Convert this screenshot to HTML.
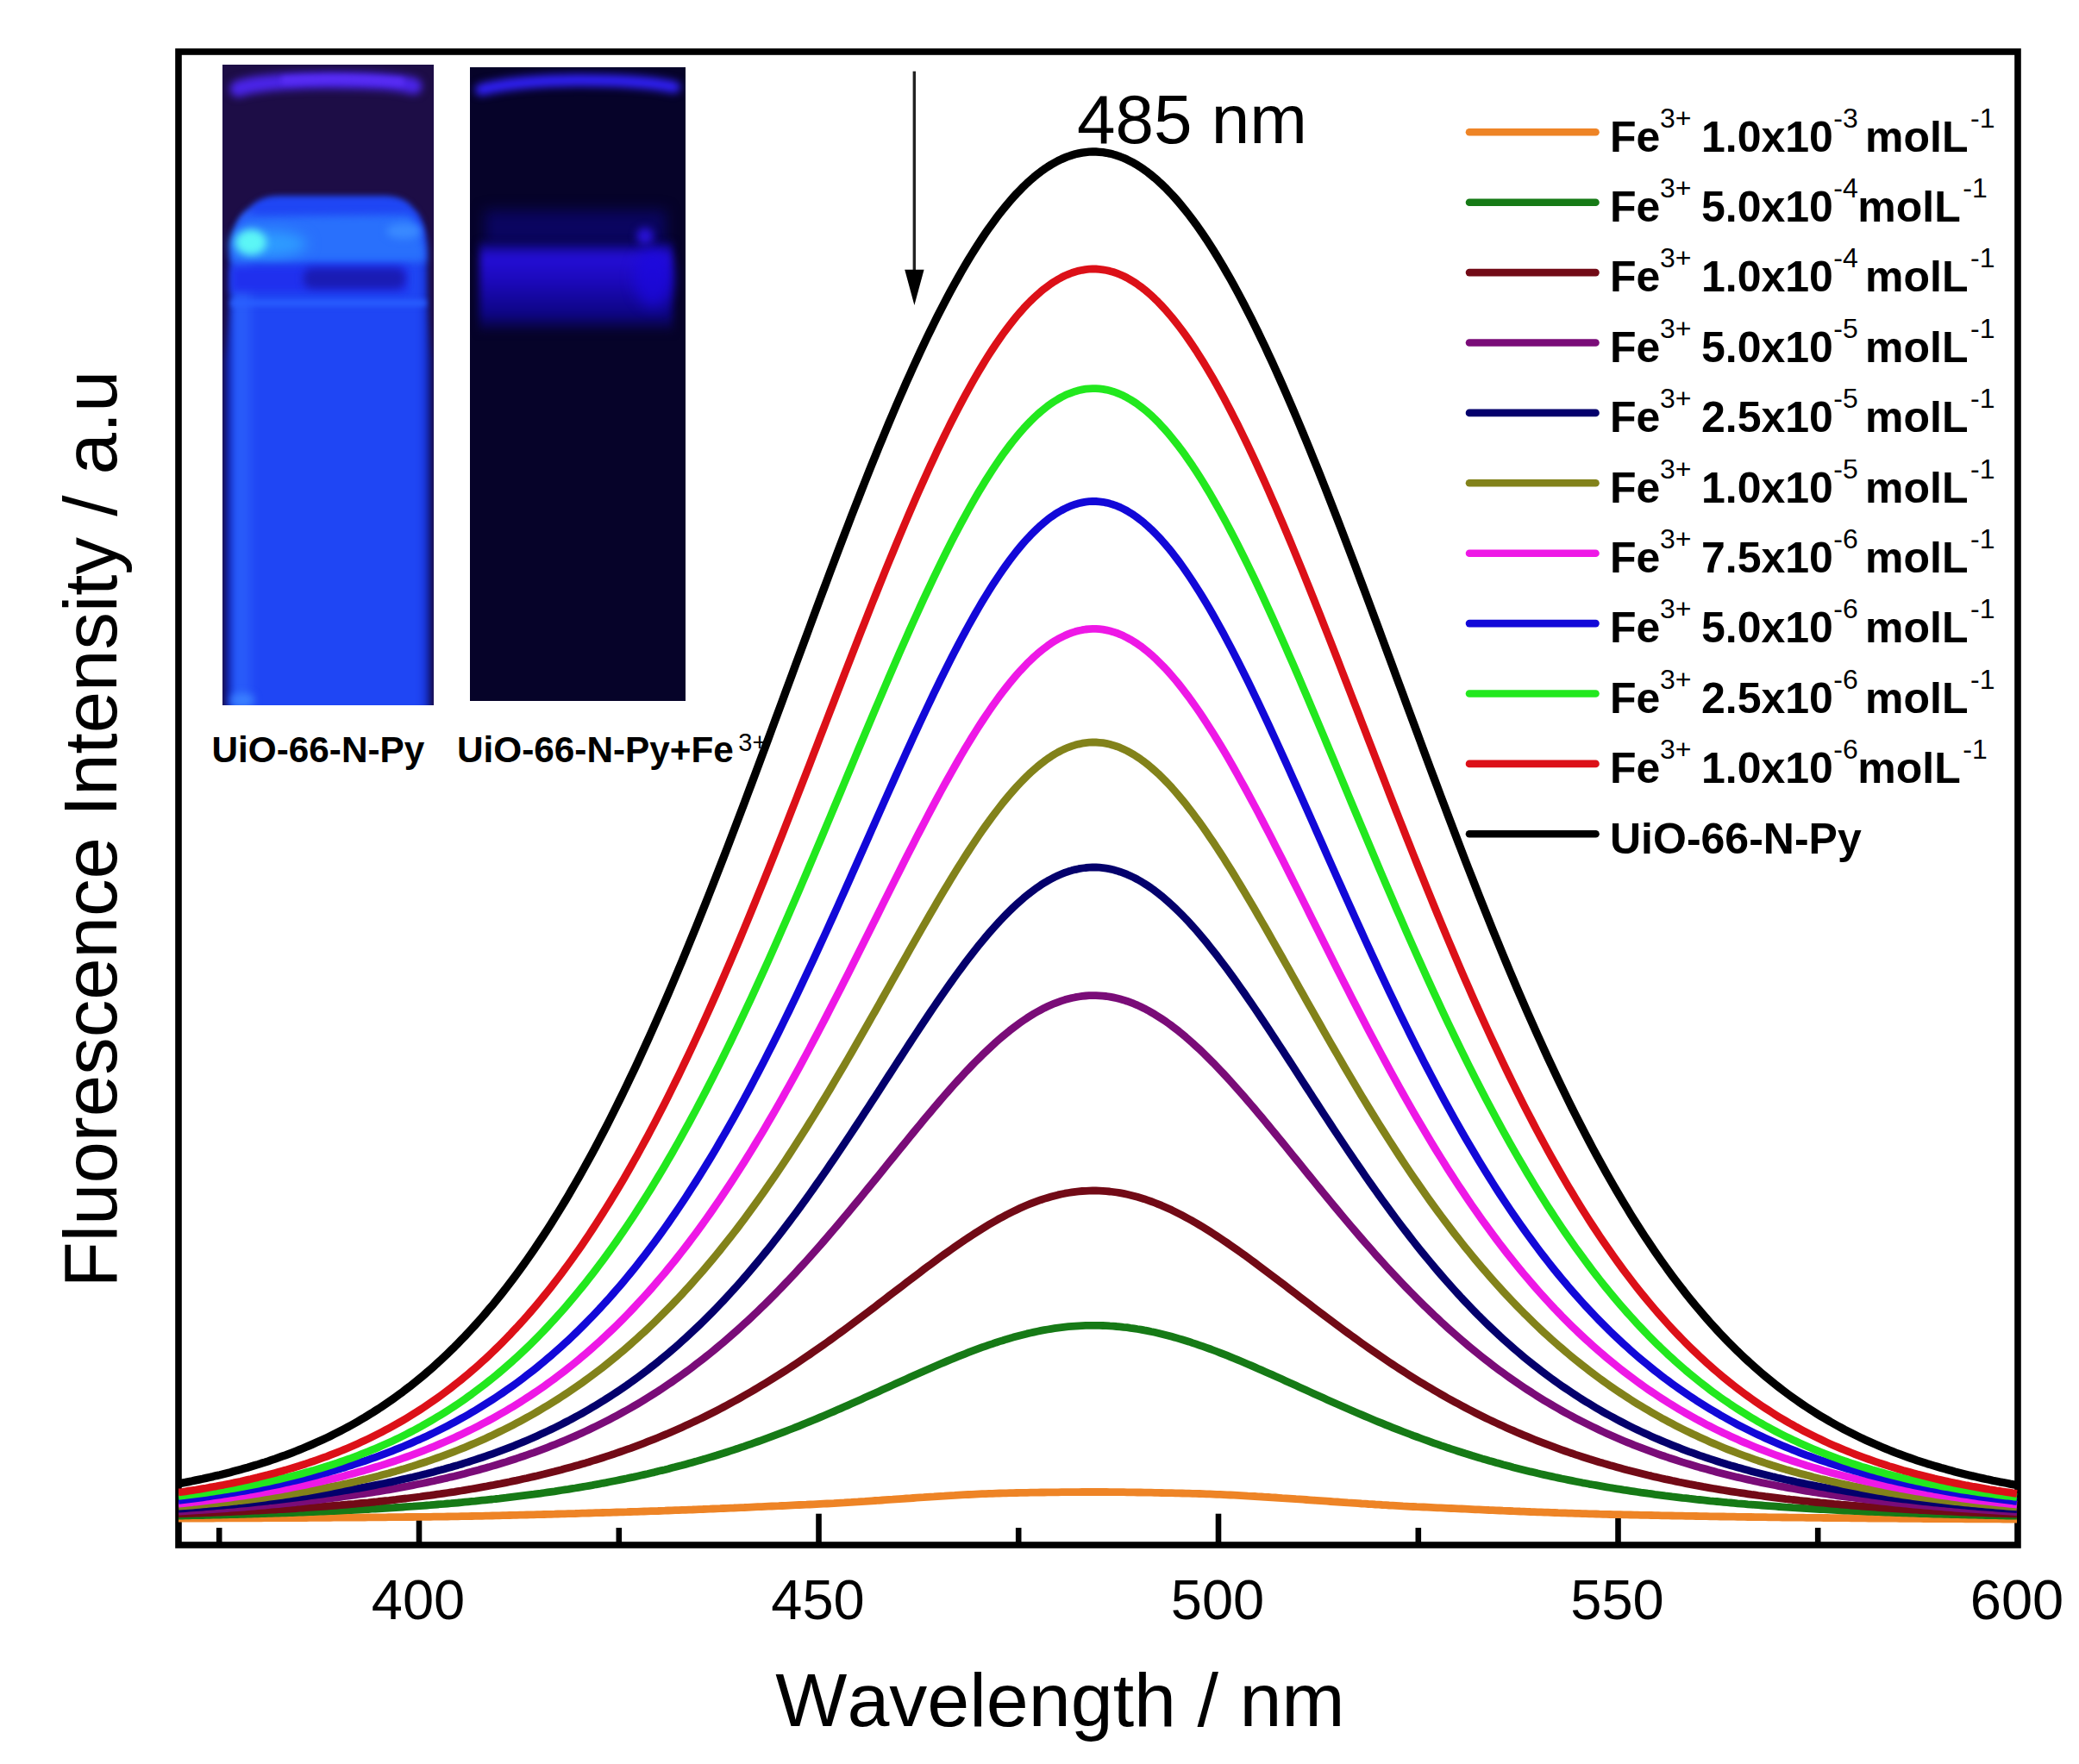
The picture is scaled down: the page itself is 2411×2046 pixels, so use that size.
<!DOCTYPE html>
<html><head><meta charset="utf-8"><title>Fluorescence spectra</title>
<style>
html,body{margin:0;padding:0;background:#fff}
svg{display:block}
text{font-family:"Liberation Sans",Arial,sans-serif;fill:#000;font-kerning:none}
.b{font-weight:bold}
</style></head><body>
<svg width="2411" height="2046" viewBox="0 0 2411 2046">
<rect width="2411" height="2046" fill="#fff"/>

<defs>
<filter color-interpolation-filters="sRGB" id="b3" filterUnits="userSpaceOnUse" x="200" y="40" width="650" height="830"><feGaussianBlur stdDeviation="3"/></filter>
<filter color-interpolation-filters="sRGB" id="b5" filterUnits="userSpaceOnUse" x="200" y="40" width="650" height="830"><feGaussianBlur stdDeviation="5"/></filter>
<filter color-interpolation-filters="sRGB" id="b8" filterUnits="userSpaceOnUse" x="200" y="40" width="650" height="830"><feGaussianBlur stdDeviation="8"/></filter>
<filter color-interpolation-filters="sRGB" id="b12" filterUnits="userSpaceOnUse" x="200" y="40" width="650" height="830"><feGaussianBlur stdDeviation="12"/></filter>
<linearGradient id="g2" x1="0" y1="0" x2="0" y2="1">
<stop offset="0" stop-color="#0a0568"/><stop offset="0.16" stop-color="#240ed6"/><stop offset="0.42" stop-color="#1c09bc"/><stop offset="0.8" stop-color="#0d0584"/><stop offset="1" stop-color="#070330"/>
</linearGradient>
<linearGradient id="g1" x1="0" y1="0" x2="1" y2="0">
<stop offset="0" stop-color="#101880"/><stop offset="0.03" stop-color="#1630c8"/><stop offset="0.05" stop-color="#2458f8"/><stop offset="0.09" stop-color="#2a5cfa"/><stop offset="0.16" stop-color="#1f46f4"/><stop offset="0.93" stop-color="#1f46f4"/><stop offset="0.965" stop-color="#1a38e0"/><stop offset="0.99" stop-color="#0e1a88"/><stop offset="1" stop-color="#0c1470"/>
</linearGradient>
<clipPath id="p1"><rect x="258" y="75" width="245" height="743"/></clipPath>
<clipPath id="p2"><rect x="545" y="78" width="250" height="735"/></clipPath>
</defs>
<g clip-path="url(#p1)">
<rect x="258" y="75" width="245" height="743" fill="#1d0d46"/>
<path d="M276 103 Q300 94 380 93 Q460 93 480 100" fill="none" stroke="#4a24e8" stroke-width="19" stroke-linecap="round" filter="url(#b5)"/>
<path d="M330 93 Q400 89 465 95" fill="none" stroke="#5a2ef6" stroke-width="8" stroke-linecap="round" filter="url(#b3)"/>
<path d="M260 830 L260 420 Q266 380 266 300 Q267 254 290 240 Q302 227 325 227 L447 227 Q470 228 479 241 Q496 254 496 300 Q496 380 501 420 L501 830 Z" fill="url(#g1)" filter="url(#b3)"/>
<path d="M269 304 L269 292 Q271 262 288 251 L474 249 Q489 262 493 292 L493 304 Z" fill="#2970fc" filter="url(#b5)"/>
<ellipse cx="468" cy="268" rx="20" ry="9" fill="#3a8aff" filter="url(#b5)"/>
<ellipse cx="312" cy="283" rx="44" ry="15" fill="#2e9cff" filter="url(#b8)"/>
<ellipse cx="291" cy="281" rx="18" ry="15" fill="#5cf6f6" filter="url(#b5)"/>
<rect x="268" y="309" width="205" height="30" fill="#2030ee" filter="url(#b5)"/>
<rect x="352" y="311" width="118" height="24" rx="10" fill="#1a1cb4" filter="url(#b5)"/>
<rect x="268" y="348" width="226" height="7" fill="#2a60ff" filter="url(#b3)"/>
<ellipse cx="281" cy="812" rx="14" ry="8" fill="#3a80ff" filter="url(#b5)"/>
</g>
<g clip-path="url(#p2)">
<rect x="545" y="78" width="250" height="735" fill="#060329"/>
<path d="M558 104 Q596 94 670 93 Q744 93 782 101" fill="none" stroke="#3020f6" stroke-width="14" stroke-linecap="round" filter="url(#b5)"/>
<rect x="562" y="244" width="210" height="40" fill="#0a0560" filter="url(#b8)"/>
<rect x="556" y="281" width="224" height="104" fill="url(#g2)" filter="url(#b5)"/>
<ellipse cx="757" cy="322" rx="22" ry="34" fill="#1c08e0" opacity="0.75" filter="url(#b8)"/>
<circle cx="748" cy="274" r="10" fill="#2812d4" filter="url(#b5)"/>
</g>

<rect x="207" y="60" width="2133" height="1732" fill="none" stroke="#000" stroke-width="7.6"/>
<line x1="486.0" y1="1792" x2="486.0" y2="1755.7" stroke="#000" stroke-width="6.6"/>
<line x1="949.5" y1="1792" x2="949.5" y2="1755.7" stroke="#000" stroke-width="6.6"/>
<line x1="1413.0" y1="1792" x2="1413.0" y2="1755.7" stroke="#000" stroke-width="6.6"/>
<line x1="1876.5" y1="1792" x2="1876.5" y2="1755.7" stroke="#000" stroke-width="6.6"/>
<line x1="254.2" y1="1792" x2="254.2" y2="1772" stroke="#000" stroke-width="6.6"/>
<line x1="717.8" y1="1792" x2="717.8" y2="1772" stroke="#000" stroke-width="6.6"/>
<line x1="1181.2" y1="1792" x2="1181.2" y2="1772" stroke="#000" stroke-width="6.6"/>
<line x1="1644.8" y1="1792" x2="1644.8" y2="1772" stroke="#000" stroke-width="6.6"/>
<line x1="2108.2" y1="1792" x2="2108.2" y2="1772" stroke="#000" stroke-width="6.6"/>
<clipPath id="pc"><rect x="207" y="60" width="2133" height="1732"/></clipPath>
<g clip-path="url(#pc)">
<path d="M207.0 1761.0 L211.0 1761.0 L215.0 1761.0 L219.0 1761.0 L223.0 1761.0 L227.0 1761.0 L231.0 1761.0 L235.0 1761.0 L239.0 1761.0 L243.0 1761.0 L247.0 1761.0 L251.0 1760.9 L255.0 1760.9 L259.0 1760.9 L263.0 1760.9 L267.0 1760.9 L271.0 1760.9 L275.0 1760.9 L279.0 1760.9 L283.0 1760.9 L287.0 1760.8 L291.0 1760.8 L295.0 1760.8 L299.0 1760.8 L303.0 1760.8 L307.0 1760.7 L311.0 1760.7 L315.0 1760.7 L319.0 1760.7 L323.0 1760.7 L327.0 1760.6 L331.0 1760.6 L335.0 1760.6 L339.0 1760.6 L343.0 1760.5 L347.0 1760.5 L351.0 1760.5 L355.0 1760.5 L359.0 1760.4 L363.0 1760.4 L367.0 1760.4 L371.0 1760.4 L375.0 1760.3 L379.0 1760.3 L383.0 1760.3 L387.0 1760.2 L391.0 1760.2 L395.0 1760.2 L399.0 1760.2 L403.0 1760.1 L407.0 1760.1 L411.0 1760.1 L415.0 1760.0 L419.0 1760.0 L423.0 1760.0 L427.0 1759.9 L431.0 1759.9 L435.0 1759.9 L439.0 1759.8 L443.0 1759.8 L447.0 1759.8 L451.0 1759.7 L455.0 1759.7 L459.0 1759.6 L463.0 1759.6 L467.0 1759.6 L471.0 1759.5 L475.0 1759.5 L479.0 1759.5 L483.0 1759.4 L487.0 1759.4 L491.0 1759.4 L495.0 1759.3 L499.0 1759.3 L503.0 1759.2 L507.0 1759.2 L511.0 1759.1 L515.0 1759.1 L519.0 1759.0 L523.0 1758.9 L527.0 1758.9 L531.0 1758.8 L535.0 1758.7 L539.0 1758.7 L543.0 1758.6 L547.0 1758.5 L551.0 1758.4 L555.0 1758.3 L559.0 1758.3 L563.0 1758.2 L567.0 1758.1 L571.0 1758.0 L575.0 1757.9 L579.0 1757.8 L583.0 1757.7 L587.0 1757.6 L591.0 1757.5 L595.0 1757.4 L599.0 1757.3 L603.0 1757.2 L607.0 1757.1 L611.0 1757.0 L615.0 1756.9 L619.0 1756.8 L623.0 1756.7 L627.0 1756.6 L631.0 1756.5 L635.0 1756.4 L639.0 1756.3 L643.0 1756.2 L647.0 1756.0 L651.0 1755.9 L655.0 1755.8 L659.0 1755.7 L663.0 1755.6 L667.0 1755.5 L671.0 1755.3 L675.0 1755.2 L679.0 1755.1 L683.0 1755.0 L687.0 1754.9 L691.0 1754.7 L695.0 1754.6 L699.0 1754.5 L703.0 1754.4 L707.0 1754.3 L711.0 1754.1 L715.0 1754.0 L719.0 1753.9 L723.0 1753.8 L727.0 1753.7 L731.0 1753.5 L735.0 1753.4 L739.0 1753.3 L743.0 1753.1 L747.0 1753.0 L751.0 1752.9 L755.0 1752.7 L759.0 1752.6 L763.0 1752.5 L767.0 1752.3 L771.0 1752.2 L775.0 1752.0 L779.0 1751.9 L783.0 1751.7 L787.0 1751.6 L791.0 1751.4 L795.0 1751.3 L799.0 1751.1 L803.0 1751.0 L807.0 1750.8 L811.0 1750.6 L815.0 1750.5 L819.0 1750.3 L823.0 1750.2 L827.0 1750.0 L831.0 1749.8 L835.0 1749.7 L839.0 1749.5 L843.0 1749.3 L847.0 1749.1 L851.0 1749.0 L855.0 1748.8 L859.0 1748.6 L863.0 1748.5 L867.0 1748.3 L871.0 1748.1 L875.0 1747.9 L879.0 1747.7 L883.0 1747.6 L887.0 1747.4 L891.0 1747.2 L895.0 1747.0 L899.0 1746.8 L903.0 1746.7 L907.0 1746.5 L911.0 1746.3 L915.0 1746.1 L919.0 1745.9 L923.0 1745.7 L927.0 1745.5 L931.0 1745.3 L935.0 1745.2 L939.0 1745.0 L943.0 1744.8 L947.0 1744.6 L951.0 1744.4 L955.0 1744.2 L959.0 1744.0 L963.0 1743.8 L967.0 1743.6 L971.0 1743.3 L975.0 1743.1 L979.0 1742.9 L983.0 1742.6 L987.0 1742.4 L991.0 1742.1 L995.0 1741.9 L999.0 1741.6 L1003.0 1741.4 L1007.0 1741.1 L1011.0 1740.8 L1015.0 1740.5 L1019.0 1740.3 L1023.0 1740.0 L1027.0 1739.7 L1031.0 1739.4 L1035.0 1739.2 L1039.0 1738.9 L1043.0 1738.6 L1047.0 1738.3 L1051.0 1738.0 L1055.0 1737.8 L1059.0 1737.5 L1063.0 1737.2 L1067.0 1736.9 L1071.0 1736.7 L1075.0 1736.4 L1079.0 1736.1 L1083.0 1735.9 L1087.0 1735.6 L1091.0 1735.3 L1095.0 1735.1 L1099.0 1734.8 L1103.0 1734.6 L1107.0 1734.4 L1111.0 1734.1 L1115.0 1733.9 L1119.0 1733.7 L1123.0 1733.5 L1127.0 1733.3 L1131.0 1733.1 L1135.0 1732.9 L1139.0 1732.7 L1143.0 1732.6 L1147.0 1732.4 L1151.0 1732.3 L1155.0 1732.1 L1159.0 1732.0 L1163.0 1731.9 L1167.0 1731.8 L1171.0 1731.7 L1175.0 1731.6 L1179.0 1731.5 L1183.0 1731.4 L1187.0 1731.4 L1191.0 1731.3 L1195.0 1731.2 L1199.0 1731.2 L1203.0 1731.1 L1207.0 1731.0 L1211.0 1731.0 L1215.0 1730.9 L1219.0 1730.9 L1223.0 1730.8 L1227.0 1730.8 L1231.0 1730.7 L1235.0 1730.7 L1239.0 1730.6 L1243.0 1730.6 L1247.0 1730.6 L1251.0 1730.6 L1255.0 1730.5 L1259.0 1730.5 L1263.0 1730.5 L1267.0 1730.5 L1271.0 1730.5 L1275.0 1730.5 L1279.0 1730.5 L1283.0 1730.5 L1287.0 1730.6 L1291.0 1730.6 L1295.0 1730.6 L1299.0 1730.7 L1303.0 1730.7 L1307.0 1730.8 L1311.0 1730.8 L1315.0 1730.9 L1319.0 1731.0 L1323.0 1731.0 L1327.0 1731.1 L1331.0 1731.2 L1335.0 1731.2 L1339.0 1731.3 L1343.0 1731.4 L1347.0 1731.5 L1351.0 1731.6 L1355.0 1731.6 L1359.0 1731.7 L1363.0 1731.8 L1367.0 1731.9 L1371.0 1732.0 L1375.0 1732.1 L1379.0 1732.2 L1383.0 1732.3 L1387.0 1732.4 L1391.0 1732.5 L1395.0 1732.6 L1399.0 1732.8 L1403.0 1732.9 L1407.0 1733.1 L1411.0 1733.3 L1415.0 1733.4 L1419.0 1733.6 L1423.0 1733.8 L1427.0 1734.0 L1431.0 1734.2 L1435.0 1734.4 L1439.0 1734.6 L1443.0 1734.8 L1447.0 1735.1 L1451.0 1735.3 L1455.0 1735.5 L1459.0 1735.8 L1463.0 1736.0 L1467.0 1736.3 L1471.0 1736.5 L1475.0 1736.8 L1479.0 1737.0 L1483.0 1737.3 L1487.0 1737.6 L1491.0 1737.8 L1495.0 1738.1 L1499.0 1738.4 L1503.0 1738.7 L1507.0 1738.9 L1511.0 1739.2 L1515.0 1739.5 L1519.0 1739.8 L1523.0 1740.1 L1527.0 1740.3 L1531.0 1740.6 L1535.0 1740.9 L1539.0 1741.2 L1543.0 1741.5 L1547.0 1741.8 L1551.0 1742.0 L1555.0 1742.3 L1559.0 1742.6 L1563.0 1742.9 L1567.0 1743.1 L1571.0 1743.4 L1575.0 1743.7 L1579.0 1744.0 L1583.0 1744.2 L1587.0 1744.5 L1591.0 1744.7 L1595.0 1745.0 L1599.0 1745.2 L1603.0 1745.5 L1607.0 1745.7 L1611.0 1746.0 L1615.0 1746.2 L1619.0 1746.4 L1623.0 1746.6 L1627.0 1746.9 L1631.0 1747.1 L1635.0 1747.3 L1639.0 1747.5 L1643.0 1747.7 L1647.0 1747.8 L1651.0 1748.0 L1655.0 1748.2 L1659.0 1748.4 L1663.0 1748.6 L1667.0 1748.8 L1671.0 1748.9 L1675.0 1749.1 L1679.0 1749.3 L1683.0 1749.5 L1687.0 1749.7 L1691.0 1749.9 L1695.0 1750.0 L1699.0 1750.2 L1703.0 1750.4 L1707.0 1750.6 L1711.0 1750.8 L1715.0 1750.9 L1719.0 1751.1 L1723.0 1751.3 L1727.0 1751.5 L1731.0 1751.6 L1735.0 1751.8 L1739.0 1752.0 L1743.0 1752.2 L1747.0 1752.3 L1751.0 1752.5 L1755.0 1752.7 L1759.0 1752.8 L1763.0 1753.0 L1767.0 1753.1 L1771.0 1753.3 L1775.0 1753.5 L1779.0 1753.6 L1783.0 1753.8 L1787.0 1753.9 L1791.0 1754.1 L1795.0 1754.2 L1799.0 1754.4 L1803.0 1754.5 L1807.0 1754.7 L1811.0 1754.8 L1815.0 1754.9 L1819.0 1755.1 L1823.0 1755.2 L1827.0 1755.3 L1831.0 1755.4 L1835.0 1755.6 L1839.0 1755.7 L1843.0 1755.8 L1847.0 1755.9 L1851.0 1756.0 L1855.0 1756.2 L1859.0 1756.3 L1863.0 1756.4 L1867.0 1756.5 L1871.0 1756.6 L1875.0 1756.7 L1879.0 1756.7 L1883.0 1756.8 L1887.0 1756.9 L1891.0 1757.0 L1895.0 1757.1 L1899.0 1757.2 L1903.0 1757.3 L1907.0 1757.4 L1911.0 1757.4 L1915.0 1757.5 L1919.0 1757.6 L1923.0 1757.7 L1927.0 1757.8 L1931.0 1757.8 L1935.0 1757.9 L1939.0 1758.0 L1943.0 1758.1 L1947.0 1758.1 L1951.0 1758.2 L1955.0 1758.3 L1959.0 1758.4 L1963.0 1758.4 L1967.0 1758.5 L1971.0 1758.6 L1975.0 1758.6 L1979.0 1758.7 L1983.0 1758.8 L1987.0 1758.8 L1991.0 1758.9 L1995.0 1759.0 L1999.0 1759.0 L2003.0 1759.1 L2007.0 1759.2 L2011.0 1759.2 L2015.0 1759.3 L2019.0 1759.3 L2023.0 1759.4 L2027.0 1759.5 L2031.0 1759.5 L2035.0 1759.6 L2039.0 1759.6 L2043.0 1759.7 L2047.0 1759.7 L2051.0 1759.8 L2055.0 1759.8 L2059.0 1759.9 L2063.0 1759.9 L2067.0 1760.0 L2071.0 1760.0 L2075.0 1760.1 L2079.0 1760.1 L2083.0 1760.2 L2087.0 1760.2 L2091.0 1760.2 L2095.0 1760.3 L2099.0 1760.3 L2103.0 1760.4 L2107.0 1760.4 L2111.0 1760.4 L2115.0 1760.5 L2119.0 1760.5 L2123.0 1760.6 L2127.0 1760.6 L2131.0 1760.6 L2135.0 1760.7 L2139.0 1760.7 L2143.0 1760.7 L2147.0 1760.8 L2151.0 1760.8 L2155.0 1760.8 L2159.0 1760.9 L2163.0 1760.9 L2167.0 1761.0 L2171.0 1761.0 L2175.0 1761.0 L2179.0 1761.1 L2183.0 1761.1 L2187.0 1761.1 L2191.0 1761.2 L2195.0 1761.2 L2199.0 1761.2 L2203.0 1761.3 L2207.0 1761.3 L2211.0 1761.3 L2215.0 1761.4 L2219.0 1761.4 L2223.0 1761.4 L2227.0 1761.4 L2231.0 1761.5 L2235.0 1761.5 L2239.0 1761.5 L2243.0 1761.6 L2247.0 1761.6 L2251.0 1761.6 L2255.0 1761.6 L2259.0 1761.7 L2263.0 1761.7 L2267.0 1761.7 L2271.0 1761.7 L2275.0 1761.7 L2279.0 1761.8 L2283.0 1761.8 L2287.0 1761.8 L2291.0 1761.8 L2295.0 1761.8 L2299.0 1761.9 L2303.0 1761.9 L2307.0 1761.9 L2311.0 1761.9 L2315.0 1761.9 L2319.0 1761.9 L2323.0 1762.0 L2327.0 1762.0 L2331.0 1762.0 L2335.0 1762.0 L2339.0 1762.0" fill="none" stroke="#ee8426" stroke-width="8.8" stroke-linejoin="round"/>
<path d="M207.0 1758.0 L211.0 1758.0 L215.0 1757.9 L219.0 1757.8 L223.0 1757.7 L227.0 1757.6 L231.0 1757.5 L235.0 1757.5 L239.0 1757.4 L243.0 1757.3 L247.0 1757.2 L251.0 1757.1 L255.0 1757.0 L259.0 1756.9 L263.0 1756.8 L267.0 1756.7 L271.0 1756.6 L275.0 1756.5 L279.0 1756.4 L283.0 1756.3 L287.0 1756.2 L291.0 1756.0 L295.0 1755.9 L299.0 1755.8 L303.0 1755.7 L307.0 1755.6 L311.0 1755.4 L315.0 1755.3 L319.0 1755.2 L323.0 1755.0 L327.0 1754.9 L331.0 1754.8 L335.0 1754.6 L339.0 1754.5 L343.0 1754.3 L347.0 1754.2 L351.0 1754.0 L355.0 1753.9 L359.0 1753.7 L363.0 1753.5 L367.0 1753.4 L371.0 1753.2 L375.0 1753.0 L379.0 1752.9 L383.0 1752.7 L387.0 1752.5 L391.0 1752.3 L395.0 1752.1 L399.0 1751.9 L403.0 1751.7 L407.0 1751.5 L411.0 1751.3 L415.0 1751.1 L419.0 1750.9 L423.0 1750.7 L427.0 1750.5 L431.0 1750.2 L435.0 1750.0 L439.0 1749.8 L443.0 1749.5 L447.0 1749.3 L451.0 1749.0 L455.0 1748.8 L459.0 1748.5 L463.0 1748.3 L467.0 1748.0 L471.0 1747.7 L475.0 1747.4 L479.0 1747.2 L483.0 1746.9 L487.0 1746.6 L491.0 1746.3 L495.0 1746.0 L499.0 1745.7 L503.0 1745.3 L507.0 1745.0 L511.0 1744.7 L515.0 1744.4 L519.0 1744.0 L523.0 1743.7 L527.0 1743.3 L531.0 1743.0 L535.0 1742.6 L539.0 1742.2 L543.0 1741.8 L547.0 1741.4 L551.0 1741.1 L555.0 1740.6 L559.0 1740.2 L563.0 1739.8 L567.0 1739.4 L571.0 1739.0 L575.0 1738.5 L579.0 1738.1 L583.0 1737.6 L587.0 1737.2 L591.0 1736.7 L595.0 1736.2 L599.0 1735.7 L603.0 1735.2 L607.0 1734.7 L611.0 1734.2 L615.0 1733.7 L619.0 1733.2 L623.0 1732.6 L627.0 1732.1 L631.0 1731.5 L635.0 1730.9 L639.0 1730.3 L643.0 1729.8 L647.0 1729.2 L651.0 1728.5 L655.0 1727.9 L659.0 1727.3 L663.0 1726.6 L667.0 1726.0 L671.0 1725.3 L675.0 1724.7 L679.0 1724.0 L683.0 1723.3 L687.0 1722.6 L691.0 1721.8 L695.0 1721.1 L699.0 1720.3 L703.0 1719.6 L707.0 1718.8 L711.0 1718.0 L715.0 1717.2 L719.0 1716.4 L723.0 1715.6 L727.0 1714.8 L731.0 1713.9 L735.0 1713.1 L739.0 1712.2 L743.0 1711.3 L747.0 1710.4 L751.0 1709.5 L755.0 1708.5 L759.0 1707.6 L763.0 1706.6 L767.0 1705.6 L771.0 1704.7 L775.0 1703.7 L779.0 1702.6 L783.0 1701.6 L787.0 1700.5 L791.0 1699.5 L795.0 1698.4 L799.0 1697.3 L803.0 1696.2 L807.0 1695.1 L811.0 1693.9 L815.0 1692.8 L819.0 1691.6 L823.0 1690.4 L827.0 1689.2 L831.0 1688.0 L835.0 1686.7 L839.0 1685.5 L843.0 1684.2 L847.0 1682.9 L851.0 1681.6 L855.0 1680.3 L859.0 1678.9 L863.0 1677.6 L867.0 1676.2 L871.0 1674.8 L875.0 1673.4 L879.0 1672.0 L883.0 1670.6 L887.0 1669.1 L891.0 1667.7 L895.0 1666.2 L899.0 1664.7 L903.0 1663.2 L907.0 1661.6 L911.0 1660.1 L915.0 1658.5 L919.0 1657.0 L923.0 1655.4 L927.0 1653.8 L931.0 1652.2 L935.0 1650.5 L939.0 1648.9 L943.0 1647.2 L947.0 1645.6 L951.0 1643.9 L955.0 1642.2 L959.0 1640.5 L963.0 1638.8 L967.0 1637.1 L971.0 1635.3 L975.0 1633.6 L979.0 1631.8 L983.0 1630.1 L987.0 1628.3 L991.0 1626.5 L995.0 1624.7 L999.0 1622.9 L1003.0 1621.1 L1007.0 1619.3 L1011.0 1617.5 L1015.0 1615.7 L1019.0 1613.9 L1023.0 1612.1 L1027.0 1610.3 L1031.0 1608.5 L1035.0 1606.6 L1039.0 1604.8 L1043.0 1603.0 L1047.0 1601.2 L1051.0 1599.4 L1055.0 1597.6 L1059.0 1595.8 L1063.0 1594.0 L1067.0 1592.2 L1071.0 1590.4 L1075.0 1588.7 L1079.0 1586.9 L1083.0 1585.2 L1087.0 1583.5 L1091.0 1581.8 L1095.0 1580.1 L1099.0 1578.4 L1103.0 1576.7 L1107.0 1575.1 L1111.0 1573.4 L1115.0 1571.8 L1119.0 1570.3 L1123.0 1568.7 L1127.0 1567.2 L1131.0 1565.7 L1135.0 1564.2 L1139.0 1562.7 L1143.0 1561.3 L1147.0 1559.9 L1151.0 1558.6 L1155.0 1557.2 L1159.0 1555.9 L1163.0 1554.7 L1167.0 1553.4 L1171.0 1552.3 L1175.0 1551.1 L1179.0 1550.0 L1183.0 1548.9 L1187.0 1547.9 L1191.0 1546.9 L1195.0 1546.0 L1199.0 1545.1 L1203.0 1544.2 L1207.0 1543.4 L1211.0 1542.7 L1215.0 1542.0 L1219.0 1541.3 L1223.0 1540.7 L1227.0 1540.1 L1231.0 1539.6 L1235.0 1539.1 L1239.0 1538.7 L1243.0 1538.4 L1247.0 1538.1 L1251.0 1537.8 L1255.0 1537.6 L1259.0 1537.4 L1263.0 1537.4 L1267.0 1537.3 L1271.0 1537.3 L1275.0 1537.4 L1279.0 1537.5 L1283.0 1537.6 L1287.0 1537.9 L1291.0 1538.1 L1295.0 1538.5 L1299.0 1538.8 L1303.0 1539.3 L1307.0 1539.7 L1311.0 1540.3 L1315.0 1540.8 L1319.0 1541.5 L1323.0 1542.1 L1327.0 1542.9 L1331.0 1543.6 L1335.0 1544.5 L1339.0 1545.3 L1343.0 1546.2 L1347.0 1547.2 L1351.0 1548.2 L1355.0 1549.2 L1359.0 1550.3 L1363.0 1551.4 L1367.0 1552.6 L1371.0 1553.8 L1375.0 1555.0 L1379.0 1556.2 L1383.0 1557.6 L1387.0 1558.9 L1391.0 1560.3 L1395.0 1561.7 L1399.0 1563.1 L1403.0 1564.5 L1407.0 1566.0 L1411.0 1567.5 L1415.0 1569.1 L1419.0 1570.7 L1423.0 1572.2 L1427.0 1573.8 L1431.0 1575.5 L1435.0 1577.1 L1439.0 1578.8 L1443.0 1580.5 L1447.0 1582.2 L1451.0 1583.9 L1455.0 1585.6 L1459.0 1587.4 L1463.0 1589.1 L1467.0 1590.9 L1471.0 1592.7 L1475.0 1594.4 L1479.0 1596.2 L1483.0 1598.0 L1487.0 1599.8 L1491.0 1601.7 L1495.0 1603.5 L1499.0 1605.3 L1503.0 1607.1 L1507.0 1608.9 L1511.0 1610.7 L1515.0 1612.5 L1519.0 1614.4 L1523.0 1616.2 L1527.0 1618.0 L1531.0 1619.8 L1535.0 1621.6 L1539.0 1623.4 L1543.0 1625.2 L1547.0 1627.0 L1551.0 1628.7 L1555.0 1630.5 L1559.0 1632.3 L1563.0 1634.0 L1567.0 1635.8 L1571.0 1637.5 L1575.0 1639.2 L1579.0 1640.9 L1583.0 1642.6 L1587.0 1644.3 L1591.0 1646.0 L1595.0 1647.7 L1599.0 1649.3 L1603.0 1650.9 L1607.0 1652.6 L1611.0 1654.2 L1615.0 1655.8 L1619.0 1657.4 L1623.0 1658.9 L1627.0 1660.5 L1631.0 1662.0 L1635.0 1663.5 L1639.0 1665.1 L1643.0 1666.5 L1647.0 1668.0 L1651.0 1669.5 L1655.0 1670.9 L1659.0 1672.4 L1663.0 1673.8 L1667.0 1675.2 L1671.0 1676.6 L1675.0 1677.9 L1679.0 1679.3 L1683.0 1680.6 L1687.0 1681.9 L1691.0 1683.2 L1695.0 1684.5 L1699.0 1685.8 L1703.0 1687.0 L1707.0 1688.3 L1711.0 1689.5 L1715.0 1690.7 L1719.0 1691.9 L1723.0 1693.0 L1727.0 1694.2 L1731.0 1695.3 L1735.0 1696.5 L1739.0 1697.6 L1743.0 1698.7 L1747.0 1699.7 L1751.0 1700.8 L1755.0 1701.9 L1759.0 1702.9 L1763.0 1703.9 L1767.0 1704.9 L1771.0 1705.9 L1775.0 1706.9 L1779.0 1707.8 L1783.0 1708.8 L1787.0 1709.7 L1791.0 1710.6 L1795.0 1711.5 L1799.0 1712.4 L1803.0 1713.3 L1807.0 1714.1 L1811.0 1715.0 L1815.0 1715.8 L1819.0 1716.6 L1823.0 1717.4 L1827.0 1718.2 L1831.0 1719.0 L1835.0 1719.8 L1839.0 1720.5 L1843.0 1721.3 L1847.0 1722.0 L1851.0 1722.7 L1855.0 1723.4 L1859.0 1724.1 L1863.0 1724.8 L1867.0 1725.5 L1871.0 1726.2 L1875.0 1726.8 L1879.0 1727.4 L1883.0 1728.1 L1887.0 1728.7 L1891.0 1729.3 L1895.0 1729.9 L1899.0 1730.5 L1903.0 1731.1 L1907.0 1731.6 L1911.0 1732.2 L1915.0 1732.7 L1919.0 1733.3 L1923.0 1733.8 L1927.0 1734.3 L1931.0 1734.9 L1935.0 1735.4 L1939.0 1735.9 L1943.0 1736.3 L1947.0 1736.8 L1951.0 1737.3 L1955.0 1737.7 L1959.0 1738.2 L1963.0 1738.6 L1967.0 1739.1 L1971.0 1739.5 L1975.0 1739.9 L1979.0 1740.3 L1983.0 1740.8 L1987.0 1741.2 L1991.0 1741.5 L1995.0 1741.9 L1999.0 1742.3 L2003.0 1742.7 L2007.0 1743.0 L2011.0 1743.4 L2015.0 1743.8 L2019.0 1744.1 L2023.0 1744.4 L2027.0 1744.8 L2031.0 1745.1 L2035.0 1745.4 L2039.0 1745.7 L2043.0 1746.0 L2047.0 1746.3 L2051.0 1746.6 L2055.0 1746.9 L2059.0 1747.2 L2063.0 1747.5 L2067.0 1747.8 L2071.0 1748.1 L2075.0 1748.3 L2079.0 1748.6 L2083.0 1748.8 L2087.0 1749.1 L2091.0 1749.3 L2095.0 1749.6 L2099.0 1749.8 L2103.0 1750.1 L2107.0 1750.3 L2111.0 1750.5 L2115.0 1750.7 L2119.0 1750.9 L2123.0 1751.2 L2127.0 1751.4 L2131.0 1751.6 L2135.0 1751.8 L2139.0 1752.0 L2143.0 1752.2 L2147.0 1752.4 L2151.0 1752.5 L2155.0 1752.7 L2159.0 1752.9 L2163.0 1753.1 L2167.0 1753.3 L2171.0 1753.4 L2175.0 1753.6 L2179.0 1753.7 L2183.0 1753.9 L2187.0 1754.1 L2191.0 1754.2 L2195.0 1754.4 L2199.0 1754.5 L2203.0 1754.7 L2207.0 1754.8 L2211.0 1754.9 L2215.0 1755.1 L2219.0 1755.2 L2223.0 1755.3 L2227.0 1755.5 L2231.0 1755.6 L2235.0 1755.7 L2239.0 1755.8 L2243.0 1756.0 L2247.0 1756.1 L2251.0 1756.2 L2255.0 1756.3 L2259.0 1756.4 L2263.0 1756.5 L2267.0 1756.6 L2271.0 1756.7 L2275.0 1756.8 L2279.0 1756.9 L2283.0 1757.0 L2287.0 1757.1 L2291.0 1757.2 L2295.0 1757.3 L2299.0 1757.4 L2303.0 1757.5 L2307.0 1757.6 L2311.0 1757.7 L2315.0 1757.7 L2319.0 1757.8 L2323.0 1757.9 L2327.0 1758.0 L2331.0 1758.1 L2335.0 1758.1 L2339.0 1758.2" fill="none" stroke="#167a16" stroke-width="8.8" stroke-linejoin="round"/>
<path d="M207.0 1755.8 L211.0 1755.7 L215.0 1755.5 L219.0 1755.4 L223.0 1755.3 L227.0 1755.1 L231.0 1755.0 L235.0 1754.8 L239.0 1754.7 L243.0 1754.5 L247.0 1754.4 L251.0 1754.2 L255.0 1754.1 L259.0 1753.9 L263.0 1753.7 L267.0 1753.6 L271.0 1753.4 L275.0 1753.2 L279.0 1753.0 L283.0 1752.8 L287.0 1752.6 L291.0 1752.4 L295.0 1752.2 L299.0 1752.0 L303.0 1751.8 L307.0 1751.6 L311.0 1751.4 L315.0 1751.2 L319.0 1751.0 L323.0 1750.7 L327.0 1750.5 L331.0 1750.3 L335.0 1750.0 L339.0 1749.8 L343.0 1749.5 L347.0 1749.2 L351.0 1749.0 L355.0 1748.7 L359.0 1748.4 L363.0 1748.1 L367.0 1747.9 L371.0 1747.6 L375.0 1747.3 L379.0 1747.0 L383.0 1746.6 L387.0 1746.3 L391.0 1746.0 L395.0 1745.7 L399.0 1745.3 L403.0 1745.0 L407.0 1744.6 L411.0 1744.3 L415.0 1743.9 L419.0 1743.5 L423.0 1743.1 L427.0 1742.8 L431.0 1742.4 L435.0 1742.0 L439.0 1741.5 L443.0 1741.1 L447.0 1740.7 L451.0 1740.3 L455.0 1739.8 L459.0 1739.4 L463.0 1738.9 L467.0 1738.4 L471.0 1738.0 L475.0 1737.5 L479.0 1737.0 L483.0 1736.5 L487.0 1736.0 L491.0 1735.4 L495.0 1734.9 L499.0 1734.4 L503.0 1733.8 L507.0 1733.2 L511.0 1732.7 L515.0 1732.1 L519.0 1731.5 L523.0 1730.9 L527.0 1730.3 L531.0 1729.6 L535.0 1729.0 L539.0 1728.3 L543.0 1727.7 L547.0 1727.0 L551.0 1726.3 L555.0 1725.6 L559.0 1724.9 L563.0 1724.2 L567.0 1723.4 L571.0 1722.7 L575.0 1721.9 L579.0 1721.2 L583.0 1720.4 L587.0 1719.6 L591.0 1718.8 L595.0 1717.9 L599.0 1717.1 L603.0 1716.2 L607.0 1715.3 L611.0 1714.5 L615.0 1713.5 L619.0 1712.6 L623.0 1711.7 L627.0 1710.7 L631.0 1709.8 L635.0 1708.8 L639.0 1707.8 L643.0 1706.8 L647.0 1705.7 L651.0 1704.7 L655.0 1703.6 L659.0 1702.5 L663.0 1701.4 L667.0 1700.3 L671.0 1699.2 L675.0 1698.0 L679.0 1696.9 L683.0 1695.7 L687.0 1694.4 L691.0 1693.2 L695.0 1692.0 L699.0 1690.7 L703.0 1689.4 L707.0 1688.1 L711.0 1686.8 L715.0 1685.4 L719.0 1684.0 L723.0 1682.6 L727.0 1681.2 L731.0 1679.8 L735.0 1678.3 L739.0 1676.8 L743.0 1675.3 L747.0 1673.8 L751.0 1672.2 L755.0 1670.7 L759.0 1669.1 L763.0 1667.5 L767.0 1665.8 L771.0 1664.1 L775.0 1662.5 L779.0 1660.7 L783.0 1659.0 L787.0 1657.2 L791.0 1655.4 L795.0 1653.6 L799.0 1651.8 L803.0 1649.9 L807.0 1648.0 L811.0 1646.1 L815.0 1644.2 L819.0 1642.2 L823.0 1640.2 L827.0 1638.2 L831.0 1636.2 L835.0 1634.1 L839.0 1632.0 L843.0 1629.9 L847.0 1627.7 L851.0 1625.5 L855.0 1623.3 L859.0 1621.1 L863.0 1618.8 L867.0 1616.5 L871.0 1614.2 L875.0 1611.9 L879.0 1609.5 L883.0 1607.1 L887.0 1604.7 L891.0 1602.3 L895.0 1599.8 L899.0 1597.3 L903.0 1594.8 L907.0 1592.2 L911.0 1589.7 L915.0 1587.1 L919.0 1584.5 L923.0 1581.8 L927.0 1579.1 L931.0 1576.4 L935.0 1573.7 L939.0 1571.0 L943.0 1568.2 L947.0 1565.4 L951.0 1562.6 L955.0 1559.8 L959.0 1557.0 L963.0 1554.1 L967.0 1551.2 L971.0 1548.3 L975.0 1545.4 L979.0 1542.4 L983.0 1539.5 L987.0 1536.5 L991.0 1533.5 L995.0 1530.5 L999.0 1527.5 L1003.0 1524.5 L1007.0 1521.5 L1011.0 1518.4 L1015.0 1515.4 L1019.0 1512.3 L1023.0 1509.3 L1027.0 1506.2 L1031.0 1503.1 L1035.0 1500.1 L1039.0 1497.0 L1043.0 1493.9 L1047.0 1490.9 L1051.0 1487.8 L1055.0 1484.8 L1059.0 1481.7 L1063.0 1478.7 L1067.0 1475.7 L1071.0 1472.6 L1075.0 1469.6 L1079.0 1466.7 L1083.0 1463.7 L1087.0 1460.7 L1091.0 1457.8 L1095.0 1454.9 L1099.0 1452.1 L1103.0 1449.2 L1107.0 1446.4 L1111.0 1443.6 L1115.0 1440.9 L1119.0 1438.1 L1123.0 1435.5 L1127.0 1432.8 L1131.0 1430.2 L1135.0 1427.7 L1139.0 1425.2 L1143.0 1422.7 L1147.0 1420.3 L1151.0 1418.0 L1155.0 1415.7 L1159.0 1413.4 L1163.0 1411.3 L1167.0 1409.1 L1171.0 1407.1 L1175.0 1405.1 L1179.0 1403.2 L1183.0 1401.3 L1187.0 1399.5 L1191.0 1397.8 L1195.0 1396.2 L1199.0 1394.6 L1203.0 1393.1 L1207.0 1391.7 L1211.0 1390.4 L1215.0 1389.2 L1219.0 1388.0 L1223.0 1386.9 L1227.0 1385.9 L1231.0 1385.0 L1235.0 1384.2 L1239.0 1383.5 L1243.0 1382.9 L1247.0 1382.3 L1251.0 1381.9 L1255.0 1381.5 L1259.0 1381.3 L1263.0 1381.1 L1267.0 1381.0 L1271.0 1381.0 L1275.0 1381.1 L1279.0 1381.3 L1283.0 1381.6 L1287.0 1382.0 L1291.0 1382.5 L1295.0 1383.0 L1299.0 1383.7 L1303.0 1384.4 L1307.0 1385.3 L1311.0 1386.2 L1315.0 1387.2 L1319.0 1388.3 L1323.0 1389.5 L1327.0 1390.7 L1331.0 1392.1 L1335.0 1393.5 L1339.0 1395.0 L1343.0 1396.6 L1347.0 1398.2 L1351.0 1400.0 L1355.0 1401.8 L1359.0 1403.6 L1363.0 1405.6 L1367.0 1407.6 L1371.0 1409.7 L1375.0 1411.8 L1379.0 1414.0 L1383.0 1416.2 L1387.0 1418.6 L1391.0 1420.9 L1395.0 1423.3 L1399.0 1425.8 L1403.0 1428.3 L1407.0 1430.9 L1411.0 1433.5 L1415.0 1436.1 L1419.0 1438.8 L1423.0 1441.5 L1427.0 1444.3 L1431.0 1447.1 L1435.0 1449.9 L1439.0 1452.8 L1443.0 1455.6 L1447.0 1458.6 L1451.0 1461.5 L1455.0 1464.4 L1459.0 1467.4 L1463.0 1470.4 L1467.0 1473.4 L1471.0 1476.4 L1475.0 1479.4 L1479.0 1482.5 L1483.0 1485.5 L1487.0 1488.6 L1491.0 1491.6 L1495.0 1494.7 L1499.0 1497.8 L1503.0 1500.8 L1507.0 1503.9 L1511.0 1507.0 L1515.0 1510.0 L1519.0 1513.1 L1523.0 1516.2 L1527.0 1519.2 L1531.0 1522.2 L1535.0 1525.3 L1539.0 1528.3 L1543.0 1531.3 L1547.0 1534.3 L1551.0 1537.3 L1555.0 1540.2 L1559.0 1543.2 L1563.0 1546.1 L1567.0 1549.0 L1571.0 1551.9 L1575.0 1554.8 L1579.0 1557.7 L1583.0 1560.5 L1587.0 1563.3 L1591.0 1566.1 L1595.0 1568.9 L1599.0 1571.7 L1603.0 1574.4 L1607.0 1577.1 L1611.0 1579.8 L1615.0 1582.5 L1619.0 1585.1 L1623.0 1587.7 L1627.0 1590.3 L1631.0 1592.9 L1635.0 1595.4 L1639.0 1597.9 L1643.0 1600.4 L1647.0 1602.9 L1651.0 1605.3 L1655.0 1607.7 L1659.0 1610.1 L1663.0 1612.5 L1667.0 1614.8 L1671.0 1617.1 L1675.0 1619.4 L1679.0 1621.7 L1683.0 1623.9 L1687.0 1626.1 L1691.0 1628.2 L1695.0 1630.4 L1699.0 1632.5 L1703.0 1634.6 L1707.0 1636.7 L1711.0 1638.7 L1715.0 1640.7 L1719.0 1642.7 L1723.0 1644.7 L1727.0 1646.6 L1731.0 1648.5 L1735.0 1650.4 L1739.0 1652.3 L1743.0 1654.1 L1747.0 1655.9 L1751.0 1657.7 L1755.0 1659.4 L1759.0 1661.2 L1763.0 1662.9 L1767.0 1664.6 L1771.0 1666.2 L1775.0 1667.9 L1779.0 1669.5 L1783.0 1671.1 L1787.0 1672.6 L1791.0 1674.2 L1795.0 1675.7 L1799.0 1677.2 L1803.0 1678.7 L1807.0 1680.1 L1811.0 1681.6 L1815.0 1683.0 L1819.0 1684.4 L1823.0 1685.7 L1827.0 1687.1 L1831.0 1688.4 L1835.0 1689.7 L1839.0 1691.0 L1843.0 1692.3 L1847.0 1693.5 L1851.0 1694.7 L1855.0 1696.0 L1859.0 1697.1 L1863.0 1698.3 L1867.0 1699.5 L1871.0 1700.6 L1875.0 1701.7 L1879.0 1702.8 L1883.0 1703.9 L1887.0 1705.0 L1891.0 1706.0 L1895.0 1707.0 L1899.0 1708.0 L1903.0 1709.0 L1907.0 1710.0 L1911.0 1711.0 L1915.0 1711.9 L1919.0 1712.9 L1923.0 1713.8 L1927.0 1714.7 L1931.0 1715.6 L1935.0 1716.4 L1939.0 1717.3 L1943.0 1718.1 L1947.0 1719.0 L1951.0 1719.8 L1955.0 1720.6 L1959.0 1721.4 L1963.0 1722.1 L1967.0 1722.9 L1971.0 1723.6 L1975.0 1724.4 L1979.0 1725.1 L1983.0 1725.8 L1987.0 1726.5 L1991.0 1727.2 L1995.0 1727.8 L1999.0 1728.5 L2003.0 1729.2 L2007.0 1729.8 L2011.0 1730.4 L2015.0 1731.0 L2019.0 1731.6 L2023.0 1732.2 L2027.0 1732.8 L2031.0 1733.4 L2035.0 1733.9 L2039.0 1734.5 L2043.0 1735.0 L2047.0 1735.6 L2051.0 1736.1 L2055.0 1736.6 L2059.0 1737.1 L2063.0 1737.6 L2067.0 1738.1 L2071.0 1738.6 L2075.0 1739.0 L2079.0 1739.5 L2083.0 1739.9 L2087.0 1740.4 L2091.0 1740.8 L2095.0 1741.2 L2099.0 1741.7 L2103.0 1742.1 L2107.0 1742.5 L2111.0 1742.9 L2115.0 1743.2 L2119.0 1743.6 L2123.0 1744.0 L2127.0 1744.4 L2131.0 1744.7 L2135.0 1745.1 L2139.0 1745.4 L2143.0 1745.7 L2147.0 1746.1 L2151.0 1746.4 L2155.0 1746.7 L2159.0 1747.0 L2163.0 1747.3 L2167.0 1747.6 L2171.0 1747.9 L2175.0 1748.2 L2179.0 1748.5 L2183.0 1748.8 L2187.0 1749.0 L2191.0 1749.3 L2195.0 1749.6 L2199.0 1749.8 L2203.0 1750.1 L2207.0 1750.3 L2211.0 1750.6 L2215.0 1750.8 L2219.0 1751.0 L2223.0 1751.2 L2227.0 1751.5 L2231.0 1751.7 L2235.0 1751.9 L2239.0 1752.1 L2243.0 1752.3 L2247.0 1752.5 L2251.0 1752.7 L2255.0 1752.9 L2259.0 1753.1 L2263.0 1753.2 L2267.0 1753.4 L2271.0 1753.6 L2275.0 1753.8 L2279.0 1753.9 L2283.0 1754.1 L2287.0 1754.3 L2291.0 1754.4 L2295.0 1754.6 L2299.0 1754.7 L2303.0 1754.9 L2307.0 1755.0 L2311.0 1755.2 L2315.0 1755.3 L2319.0 1755.4 L2323.0 1755.6 L2327.0 1755.7 L2331.0 1755.8 L2335.0 1755.9 L2339.0 1756.1" fill="none" stroke="#720a16" stroke-width="8.8" stroke-linejoin="round"/>
<path d="M207.0 1753.0 L211.0 1752.8 L215.0 1752.5 L219.0 1752.3 L223.0 1752.1 L227.0 1751.8 L231.0 1751.6 L235.0 1751.4 L239.0 1751.1 L243.0 1750.8 L247.0 1750.6 L251.0 1750.3 L255.0 1750.0 L259.0 1749.8 L263.0 1749.5 L267.0 1749.2 L271.0 1748.9 L275.0 1748.6 L279.0 1748.3 L283.0 1748.0 L287.0 1747.6 L291.0 1747.3 L295.0 1747.0 L299.0 1746.6 L303.0 1746.3 L307.0 1746.0 L311.0 1745.6 L315.0 1745.2 L319.0 1744.9 L323.0 1744.5 L327.0 1744.1 L331.0 1743.7 L335.0 1743.3 L339.0 1742.9 L343.0 1742.5 L347.0 1742.0 L351.0 1741.6 L355.0 1741.2 L359.0 1740.7 L363.0 1740.3 L367.0 1739.8 L371.0 1739.3 L375.0 1738.8 L379.0 1738.4 L383.0 1737.8 L387.0 1737.3 L391.0 1736.8 L395.0 1736.3 L399.0 1735.7 L403.0 1735.2 L407.0 1734.6 L411.0 1734.1 L415.0 1733.5 L419.0 1732.9 L423.0 1732.3 L427.0 1731.7 L431.0 1731.1 L435.0 1730.4 L439.0 1729.8 L443.0 1729.1 L447.0 1728.4 L451.0 1727.8 L455.0 1727.1 L459.0 1726.4 L463.0 1725.6 L467.0 1724.9 L471.0 1724.2 L475.0 1723.4 L479.0 1722.6 L483.0 1721.8 L487.0 1721.0 L491.0 1720.2 L495.0 1719.4 L499.0 1718.5 L503.0 1717.7 L507.0 1716.8 L511.0 1715.9 L515.0 1715.0 L519.0 1714.1 L523.0 1713.1 L527.0 1712.2 L531.0 1711.2 L535.0 1710.2 L539.0 1709.2 L543.0 1708.1 L547.0 1707.1 L551.0 1706.0 L555.0 1705.0 L559.0 1703.8 L563.0 1702.7 L567.0 1701.6 L571.0 1700.4 L575.0 1699.2 L579.0 1698.0 L583.0 1696.8 L587.0 1695.6 L591.0 1694.3 L595.0 1693.0 L599.0 1691.7 L603.0 1690.3 L607.0 1689.0 L611.0 1687.6 L615.0 1686.2 L619.0 1684.8 L623.0 1683.3 L627.0 1681.8 L631.0 1680.3 L635.0 1678.8 L639.0 1677.2 L643.0 1675.7 L647.0 1674.0 L651.0 1672.4 L655.0 1670.7 L659.0 1669.0 L663.0 1667.3 L667.0 1665.6 L671.0 1663.8 L675.0 1662.0 L679.0 1660.1 L683.0 1658.2 L687.0 1656.3 L691.0 1654.4 L695.0 1652.4 L699.0 1650.4 L703.0 1648.4 L707.0 1646.3 L711.0 1644.2 L715.0 1642.1 L719.0 1639.9 L723.0 1637.7 L727.0 1635.5 L731.0 1633.2 L735.0 1630.9 L739.0 1628.6 L743.0 1626.2 L747.0 1623.7 L751.0 1621.3 L755.0 1618.8 L759.0 1616.2 L763.0 1613.7 L767.0 1611.1 L771.0 1608.4 L775.0 1605.7 L779.0 1603.0 L783.0 1600.2 L787.0 1597.4 L791.0 1594.5 L795.0 1591.6 L799.0 1588.7 L803.0 1585.7 L807.0 1582.6 L811.0 1579.6 L815.0 1576.5 L819.0 1573.3 L823.0 1570.1 L827.0 1566.8 L831.0 1563.5 L835.0 1560.2 L839.0 1556.8 L843.0 1553.4 L847.0 1549.9 L851.0 1546.4 L855.0 1542.9 L859.0 1539.3 L863.0 1535.6 L867.0 1531.9 L871.0 1528.2 L875.0 1524.4 L879.0 1520.6 L883.0 1516.7 L887.0 1512.8 L891.0 1508.8 L895.0 1504.8 L899.0 1500.8 L903.0 1496.7 L907.0 1492.6 L911.0 1488.4 L915.0 1484.2 L919.0 1480.0 L923.0 1475.7 L927.0 1471.3 L931.0 1467.0 L935.0 1462.6 L939.0 1458.1 L943.0 1453.6 L947.0 1449.1 L951.0 1444.6 L955.0 1440.0 L959.0 1435.4 L963.0 1430.7 L967.0 1426.0 L971.0 1421.3 L975.0 1416.6 L979.0 1411.8 L983.0 1407.1 L987.0 1402.2 L991.0 1397.4 L995.0 1392.6 L999.0 1387.7 L1003.0 1382.8 L1007.0 1377.9 L1011.0 1373.0 L1015.0 1368.1 L1019.0 1363.2 L1023.0 1358.2 L1027.0 1353.3 L1031.0 1348.3 L1035.0 1343.4 L1039.0 1338.5 L1043.0 1333.5 L1047.0 1328.6 L1051.0 1323.7 L1055.0 1318.8 L1059.0 1313.9 L1063.0 1309.0 L1067.0 1304.2 L1071.0 1299.3 L1075.0 1294.5 L1079.0 1289.8 L1083.0 1285.0 L1087.0 1280.3 L1091.0 1275.7 L1095.0 1271.0 L1099.0 1266.5 L1103.0 1261.9 L1107.0 1257.4 L1111.0 1253.0 L1115.0 1248.7 L1119.0 1244.3 L1123.0 1240.1 L1127.0 1235.9 L1131.0 1231.8 L1135.0 1227.8 L1139.0 1223.8 L1143.0 1220.0 L1147.0 1216.2 L1151.0 1212.5 L1155.0 1208.8 L1159.0 1205.3 L1163.0 1201.9 L1167.0 1198.6 L1171.0 1195.3 L1175.0 1192.2 L1179.0 1189.2 L1183.0 1186.3 L1187.0 1183.5 L1191.0 1180.8 L1195.0 1178.3 L1199.0 1175.8 L1203.0 1173.5 L1207.0 1171.3 L1211.0 1169.2 L1215.0 1167.3 L1219.0 1165.5 L1223.0 1163.8 L1227.0 1162.3 L1231.0 1160.9 L1235.0 1159.6 L1239.0 1158.5 L1243.0 1157.5 L1247.0 1156.7 L1251.0 1156.0 L1255.0 1155.4 L1259.0 1155.0 L1263.0 1154.7 L1267.0 1154.6 L1271.0 1154.6 L1275.0 1154.8 L1279.0 1155.1 L1283.0 1155.5 L1287.0 1156.1 L1291.0 1156.9 L1295.0 1157.8 L1299.0 1158.8 L1303.0 1159.9 L1307.0 1161.2 L1311.0 1162.7 L1315.0 1164.2 L1319.0 1165.9 L1323.0 1167.8 L1327.0 1169.7 L1331.0 1171.8 L1335.0 1174.1 L1339.0 1176.4 L1343.0 1178.9 L1347.0 1181.5 L1351.0 1184.2 L1355.0 1187.0 L1359.0 1189.9 L1363.0 1193.0 L1367.0 1196.1 L1371.0 1199.4 L1375.0 1202.7 L1379.0 1206.2 L1383.0 1209.7 L1387.0 1213.4 L1391.0 1217.1 L1395.0 1220.9 L1399.0 1224.8 L1403.0 1228.8 L1407.0 1232.8 L1411.0 1237.0 L1415.0 1241.2 L1419.0 1245.4 L1423.0 1249.7 L1427.0 1254.1 L1431.0 1258.6 L1435.0 1263.1 L1439.0 1267.6 L1443.0 1272.2 L1447.0 1276.8 L1451.0 1281.5 L1455.0 1286.2 L1459.0 1291.0 L1463.0 1295.7 L1467.0 1300.5 L1471.0 1305.4 L1475.0 1310.2 L1479.0 1315.1 L1483.0 1320.0 L1487.0 1324.9 L1491.0 1329.8 L1495.0 1334.8 L1499.0 1339.7 L1503.0 1344.6 L1507.0 1349.6 L1511.0 1354.5 L1515.0 1359.5 L1519.0 1364.4 L1523.0 1369.3 L1527.0 1374.2 L1531.0 1379.1 L1535.0 1384.0 L1539.0 1388.9 L1543.0 1393.8 L1547.0 1398.6 L1551.0 1403.4 L1555.0 1408.3 L1559.0 1413.0 L1563.0 1417.8 L1567.0 1422.5 L1571.0 1427.2 L1575.0 1431.9 L1579.0 1436.5 L1583.0 1441.1 L1587.0 1445.7 L1591.0 1450.2 L1595.0 1454.8 L1599.0 1459.2 L1603.0 1463.7 L1607.0 1468.1 L1611.0 1472.4 L1615.0 1476.7 L1619.0 1481.0 L1623.0 1485.3 L1627.0 1489.5 L1631.0 1493.6 L1635.0 1497.7 L1639.0 1501.8 L1643.0 1505.8 L1647.0 1509.8 L1651.0 1513.8 L1655.0 1517.7 L1659.0 1521.5 L1663.0 1525.4 L1667.0 1529.1 L1671.0 1532.9 L1675.0 1536.5 L1679.0 1540.2 L1683.0 1543.8 L1687.0 1547.3 L1691.0 1550.8 L1695.0 1554.3 L1699.0 1557.7 L1703.0 1561.1 L1707.0 1564.4 L1711.0 1567.7 L1715.0 1570.9 L1719.0 1574.1 L1723.0 1577.2 L1727.0 1580.3 L1731.0 1583.4 L1735.0 1586.4 L1739.0 1589.4 L1743.0 1592.3 L1747.0 1595.2 L1751.0 1598.1 L1755.0 1600.9 L1759.0 1603.7 L1763.0 1606.4 L1767.0 1609.1 L1771.0 1611.7 L1775.0 1614.3 L1779.0 1616.9 L1783.0 1619.4 L1787.0 1621.9 L1791.0 1624.4 L1795.0 1626.8 L1799.0 1629.1 L1803.0 1631.5 L1807.0 1633.8 L1811.0 1636.1 L1815.0 1638.3 L1819.0 1640.5 L1823.0 1642.6 L1827.0 1644.8 L1831.0 1646.9 L1835.0 1648.9 L1839.0 1650.9 L1843.0 1652.9 L1847.0 1654.9 L1851.0 1656.8 L1855.0 1658.7 L1859.0 1660.6 L1863.0 1662.4 L1867.0 1664.2 L1871.0 1666.0 L1875.0 1667.7 L1879.0 1669.5 L1883.0 1671.2 L1887.0 1672.8 L1891.0 1674.4 L1895.0 1676.1 L1899.0 1677.6 L1903.0 1679.2 L1907.0 1680.7 L1911.0 1682.2 L1915.0 1683.7 L1919.0 1685.1 L1923.0 1686.6 L1927.0 1688.0 L1931.0 1689.3 L1935.0 1690.7 L1939.0 1692.0 L1943.0 1693.3 L1947.0 1694.6 L1951.0 1695.9 L1955.0 1697.1 L1959.0 1698.3 L1963.0 1699.5 L1967.0 1700.7 L1971.0 1701.9 L1975.0 1703.0 L1979.0 1704.1 L1983.0 1705.2 L1987.0 1706.3 L1991.0 1707.4 L1995.0 1708.4 L1999.0 1709.4 L2003.0 1710.4 L2007.0 1711.4 L2011.0 1712.4 L2015.0 1713.4 L2019.0 1714.3 L2023.0 1715.2 L2027.0 1716.1 L2031.0 1717.0 L2035.0 1717.9 L2039.0 1718.7 L2043.0 1719.6 L2047.0 1720.4 L2051.0 1721.2 L2055.0 1722.0 L2059.0 1722.8 L2063.0 1723.6 L2067.0 1724.3 L2071.0 1725.1 L2075.0 1725.8 L2079.0 1726.5 L2083.0 1727.2 L2087.0 1727.9 L2091.0 1728.6 L2095.0 1729.3 L2099.0 1729.9 L2103.0 1730.6 L2107.0 1731.2 L2111.0 1731.8 L2115.0 1732.4 L2119.0 1733.0 L2123.0 1733.6 L2127.0 1734.2 L2131.0 1734.8 L2135.0 1735.3 L2139.0 1735.9 L2143.0 1736.4 L2147.0 1736.9 L2151.0 1737.5 L2155.0 1738.0 L2159.0 1738.5 L2163.0 1739.0 L2167.0 1739.4 L2171.0 1739.9 L2175.0 1740.4 L2179.0 1740.8 L2183.0 1741.3 L2187.0 1741.7 L2191.0 1742.2 L2195.0 1742.6 L2199.0 1743.0 L2203.0 1743.4 L2207.0 1743.8 L2211.0 1744.2 L2215.0 1744.6 L2219.0 1745.0 L2223.0 1745.3 L2227.0 1745.7 L2231.0 1746.0 L2235.0 1746.4 L2239.0 1746.7 L2243.0 1747.1 L2247.0 1747.4 L2251.0 1747.7 L2255.0 1748.0 L2259.0 1748.4 L2263.0 1748.7 L2267.0 1749.0 L2271.0 1749.3 L2275.0 1749.5 L2279.0 1749.8 L2283.0 1750.1 L2287.0 1750.4 L2291.0 1750.6 L2295.0 1750.9 L2299.0 1751.2 L2303.0 1751.4 L2307.0 1751.7 L2311.0 1751.9 L2315.0 1752.1 L2319.0 1752.4 L2323.0 1752.6 L2327.0 1752.8 L2331.0 1753.0 L2335.0 1753.3 L2339.0 1753.5" fill="none" stroke="#7a0c78" stroke-width="8.8" stroke-linejoin="round"/>
<path d="M207.0 1750.0 L211.0 1749.8 L215.0 1749.5 L219.0 1749.2 L223.0 1748.9 L227.0 1748.6 L231.0 1748.3 L235.0 1748.0 L239.0 1747.7 L243.0 1747.4 L247.0 1747.1 L251.0 1746.7 L255.0 1746.4 L259.0 1746.0 L263.0 1745.7 L267.0 1745.3 L271.0 1745.0 L275.0 1744.6 L279.0 1744.2 L283.0 1743.8 L287.0 1743.5 L291.0 1743.1 L295.0 1742.7 L299.0 1742.2 L303.0 1741.8 L307.0 1741.4 L311.0 1741.0 L315.0 1740.5 L319.0 1740.1 L323.0 1739.6 L327.0 1739.1 L331.0 1738.6 L335.0 1738.2 L339.0 1737.7 L343.0 1737.2 L347.0 1736.6 L351.0 1736.1 L355.0 1735.6 L359.0 1735.0 L363.0 1734.5 L367.0 1733.9 L371.0 1733.4 L375.0 1732.8 L379.0 1732.2 L383.0 1731.6 L387.0 1730.9 L391.0 1730.3 L395.0 1729.7 L399.0 1729.0 L403.0 1728.4 L407.0 1727.7 L411.0 1727.0 L415.0 1726.3 L419.0 1725.6 L423.0 1724.9 L427.0 1724.1 L431.0 1723.4 L435.0 1722.6 L439.0 1721.8 L443.0 1721.0 L447.0 1720.2 L451.0 1719.4 L455.0 1718.6 L459.0 1717.7 L463.0 1716.8 L467.0 1715.9 L471.0 1715.0 L475.0 1714.1 L479.0 1713.2 L483.0 1712.2 L487.0 1711.3 L491.0 1710.3 L495.0 1709.3 L499.0 1708.2 L503.0 1707.2 L507.0 1706.1 L511.0 1705.1 L515.0 1704.0 L519.0 1702.8 L523.0 1701.7 L527.0 1700.5 L531.0 1699.4 L535.0 1698.2 L539.0 1696.9 L543.0 1695.7 L547.0 1694.4 L551.0 1693.1 L555.0 1691.8 L559.0 1690.5 L563.0 1689.1 L567.0 1687.7 L571.0 1686.3 L575.0 1684.9 L579.0 1683.4 L583.0 1681.9 L587.0 1680.4 L591.0 1678.8 L595.0 1677.3 L599.0 1675.7 L603.0 1674.0 L607.0 1672.4 L611.0 1670.7 L615.0 1669.0 L619.0 1667.2 L623.0 1665.4 L627.0 1663.6 L631.0 1661.8 L635.0 1659.9 L639.0 1658.0 L643.0 1656.1 L647.0 1654.1 L651.0 1652.1 L655.0 1650.0 L659.0 1648.0 L663.0 1645.8 L667.0 1643.7 L671.0 1641.5 L675.0 1639.3 L679.0 1637.0 L683.0 1634.7 L687.0 1632.3 L691.0 1629.9 L695.0 1627.5 L699.0 1625.1 L703.0 1622.5 L707.0 1620.0 L711.0 1617.4 L715.0 1614.8 L719.0 1612.1 L723.0 1609.3 L727.0 1606.6 L731.0 1603.7 L735.0 1600.9 L739.0 1598.0 L743.0 1595.0 L747.0 1592.0 L751.0 1589.0 L755.0 1585.8 L759.0 1582.7 L763.0 1579.5 L767.0 1576.2 L771.0 1572.9 L775.0 1569.6 L779.0 1566.2 L783.0 1562.7 L787.0 1559.2 L791.0 1555.6 L795.0 1552.0 L799.0 1548.3 L803.0 1544.6 L807.0 1540.8 L811.0 1537.0 L815.0 1533.1 L819.0 1529.1 L823.0 1525.1 L827.0 1521.1 L831.0 1517.0 L835.0 1512.8 L839.0 1508.6 L843.0 1504.3 L847.0 1499.9 L851.0 1495.5 L855.0 1491.1 L859.0 1486.6 L863.0 1482.0 L867.0 1477.4 L871.0 1472.7 L875.0 1467.9 L879.0 1463.1 L883.0 1458.3 L887.0 1453.4 L891.0 1448.4 L895.0 1443.4 L899.0 1438.3 L903.0 1433.2 L907.0 1428.0 L911.0 1422.8 L915.0 1417.5 L919.0 1412.2 L923.0 1406.8 L927.0 1401.3 L931.0 1395.8 L935.0 1390.3 L939.0 1384.7 L943.0 1379.1 L947.0 1373.4 L951.0 1367.7 L955.0 1362.0 L959.0 1356.2 L963.0 1350.3 L967.0 1344.5 L971.0 1338.6 L975.0 1332.6 L979.0 1326.6 L983.0 1320.6 L987.0 1314.6 L991.0 1308.5 L995.0 1302.5 L999.0 1296.4 L1003.0 1290.2 L1007.0 1284.1 L1011.0 1277.9 L1015.0 1271.8 L1019.0 1265.6 L1023.0 1259.4 L1027.0 1253.2 L1031.0 1247.0 L1035.0 1240.8 L1039.0 1234.7 L1043.0 1228.5 L1047.0 1222.3 L1051.0 1216.2 L1055.0 1210.0 L1059.0 1203.9 L1063.0 1197.8 L1067.0 1191.8 L1071.0 1185.8 L1075.0 1179.8 L1079.0 1173.8 L1083.0 1167.9 L1087.0 1162.0 L1091.0 1156.2 L1095.0 1150.5 L1099.0 1144.7 L1103.0 1139.1 L1107.0 1133.5 L1111.0 1128.0 L1115.0 1122.6 L1119.0 1117.2 L1123.0 1111.9 L1127.0 1106.8 L1131.0 1101.6 L1135.0 1096.6 L1139.0 1091.7 L1143.0 1086.9 L1147.0 1082.2 L1151.0 1077.6 L1155.0 1073.1 L1159.0 1068.7 L1163.0 1064.5 L1167.0 1060.4 L1171.0 1056.4 L1175.0 1052.5 L1179.0 1048.8 L1183.0 1045.2 L1187.0 1041.7 L1191.0 1038.4 L1195.0 1035.2 L1199.0 1032.2 L1203.0 1029.3 L1207.0 1026.6 L1211.0 1024.1 L1215.0 1021.7 L1219.0 1019.5 L1223.0 1017.4 L1227.0 1015.5 L1231.0 1013.8 L1235.0 1012.2 L1239.0 1010.8 L1243.0 1009.6 L1247.0 1008.6 L1251.0 1007.7 L1255.0 1007.0 L1259.0 1006.5 L1263.0 1006.2 L1267.0 1006.0 L1271.0 1006.0 L1275.0 1006.2 L1279.0 1006.6 L1283.0 1007.2 L1287.0 1007.9 L1291.0 1008.8 L1295.0 1009.9 L1299.0 1011.2 L1303.0 1012.6 L1307.0 1014.2 L1311.0 1016.0 L1315.0 1017.9 L1319.0 1020.0 L1323.0 1022.3 L1327.0 1024.7 L1331.0 1027.3 L1335.0 1030.0 L1339.0 1032.9 L1343.0 1036.0 L1347.0 1039.2 L1351.0 1042.6 L1355.0 1046.1 L1359.0 1049.7 L1363.0 1053.5 L1367.0 1057.4 L1371.0 1061.4 L1375.0 1065.5 L1379.0 1069.8 L1383.0 1074.2 L1387.0 1078.7 L1391.0 1083.4 L1395.0 1088.1 L1399.0 1092.9 L1403.0 1097.9 L1407.0 1102.9 L1411.0 1108.0 L1415.0 1113.3 L1419.0 1118.6 L1423.0 1123.9 L1427.0 1129.4 L1431.0 1134.9 L1435.0 1140.5 L1439.0 1146.2 L1443.0 1151.9 L1447.0 1157.7 L1451.0 1163.5 L1455.0 1169.4 L1459.0 1175.3 L1463.0 1181.3 L1467.0 1187.3 L1471.0 1193.3 L1475.0 1199.4 L1479.0 1205.5 L1483.0 1211.6 L1487.0 1217.7 L1491.0 1223.9 L1495.0 1230.0 L1499.0 1236.2 L1503.0 1242.4 L1507.0 1248.6 L1511.0 1254.8 L1515.0 1261.0 L1519.0 1267.1 L1523.0 1273.3 L1527.0 1279.5 L1531.0 1285.6 L1535.0 1291.8 L1539.0 1297.9 L1543.0 1304.0 L1547.0 1310.1 L1551.0 1316.1 L1555.0 1322.1 L1559.0 1328.1 L1563.0 1334.1 L1567.0 1340.0 L1571.0 1345.9 L1575.0 1351.8 L1579.0 1357.6 L1583.0 1363.4 L1587.0 1369.2 L1591.0 1374.9 L1595.0 1380.5 L1599.0 1386.1 L1603.0 1391.7 L1607.0 1397.2 L1611.0 1402.7 L1615.0 1408.1 L1619.0 1413.5 L1623.0 1418.8 L1627.0 1424.1 L1631.0 1429.3 L1635.0 1434.5 L1639.0 1439.6 L1643.0 1444.7 L1647.0 1449.7 L1651.0 1454.6 L1655.0 1459.5 L1659.0 1464.3 L1663.0 1469.1 L1667.0 1473.9 L1671.0 1478.5 L1675.0 1483.1 L1679.0 1487.7 L1683.0 1492.2 L1687.0 1496.6 L1691.0 1501.0 L1695.0 1505.4 L1699.0 1509.6 L1703.0 1513.8 L1707.0 1518.0 L1711.0 1522.1 L1715.0 1526.2 L1719.0 1530.1 L1723.0 1534.1 L1727.0 1538.0 L1731.0 1541.8 L1735.0 1545.5 L1739.0 1549.3 L1743.0 1552.9 L1747.0 1556.5 L1751.0 1560.1 L1755.0 1563.6 L1759.0 1567.0 L1763.0 1570.4 L1767.0 1573.8 L1771.0 1577.1 L1775.0 1580.3 L1779.0 1583.5 L1783.0 1586.6 L1787.0 1589.7 L1791.0 1592.8 L1795.0 1595.8 L1799.0 1598.7 L1803.0 1601.6 L1807.0 1604.5 L1811.0 1607.3 L1815.0 1610.0 L1819.0 1612.7 L1823.0 1615.4 L1827.0 1618.0 L1831.0 1620.6 L1835.0 1623.2 L1839.0 1625.7 L1843.0 1628.1 L1847.0 1630.5 L1851.0 1632.9 L1855.0 1635.3 L1859.0 1637.6 L1863.0 1639.8 L1867.0 1642.0 L1871.0 1644.2 L1875.0 1646.4 L1879.0 1648.5 L1883.0 1650.5 L1887.0 1652.6 L1891.0 1654.6 L1895.0 1656.6 L1899.0 1658.5 L1903.0 1660.4 L1907.0 1662.3 L1911.0 1664.1 L1915.0 1665.9 L1919.0 1667.7 L1923.0 1669.4 L1927.0 1671.1 L1931.0 1672.8 L1935.0 1674.4 L1939.0 1676.1 L1943.0 1677.7 L1947.0 1679.2 L1951.0 1680.8 L1955.0 1682.3 L1959.0 1683.8 L1963.0 1685.2 L1967.0 1686.7 L1971.0 1688.1 L1975.0 1689.4 L1979.0 1690.8 L1983.0 1692.1 L1987.0 1693.4 L1991.0 1694.7 L1995.0 1696.0 L1999.0 1697.2 L2003.0 1698.5 L2007.0 1699.7 L2011.0 1700.8 L2015.0 1702.0 L2019.0 1703.1 L2023.0 1704.2 L2027.0 1705.3 L2031.0 1706.4 L2035.0 1707.5 L2039.0 1708.5 L2043.0 1709.5 L2047.0 1710.5 L2051.0 1711.5 L2055.0 1712.5 L2059.0 1713.4 L2063.0 1714.4 L2067.0 1715.3 L2071.0 1716.2 L2075.0 1717.0 L2079.0 1717.9 L2083.0 1718.8 L2087.0 1719.6 L2091.0 1720.4 L2095.0 1721.2 L2099.0 1722.0 L2103.0 1722.8 L2107.0 1723.6 L2111.0 1724.3 L2115.0 1725.0 L2119.0 1725.8 L2123.0 1726.5 L2127.0 1727.2 L2131.0 1727.9 L2135.0 1728.5 L2139.0 1729.2 L2143.0 1729.8 L2147.0 1730.5 L2151.0 1731.1 L2155.0 1731.7 L2159.0 1732.3 L2163.0 1732.9 L2167.0 1733.5 L2171.0 1734.1 L2175.0 1734.6 L2179.0 1735.2 L2183.0 1735.7 L2187.0 1736.3 L2191.0 1736.8 L2195.0 1737.3 L2199.0 1737.8 L2203.0 1738.3 L2207.0 1738.8 L2211.0 1739.2 L2215.0 1739.7 L2219.0 1740.2 L2223.0 1740.6 L2227.0 1741.1 L2231.0 1741.5 L2235.0 1741.9 L2239.0 1742.3 L2243.0 1742.8 L2247.0 1743.2 L2251.0 1743.6 L2255.0 1743.9 L2259.0 1744.3 L2263.0 1744.7 L2267.0 1745.1 L2271.0 1745.4 L2275.0 1745.8 L2279.0 1746.1 L2283.0 1746.5 L2287.0 1746.8 L2291.0 1747.1 L2295.0 1747.5 L2299.0 1747.8 L2303.0 1748.1 L2307.0 1748.4 L2311.0 1748.7 L2315.0 1749.0 L2319.0 1749.3 L2323.0 1749.6 L2327.0 1749.8 L2331.0 1750.1 L2335.0 1750.4 L2339.0 1750.6" fill="none" stroke="#04006c" stroke-width="8.8" stroke-linejoin="round"/>
<path d="M207.0 1747.2 L211.0 1746.9 L215.0 1746.6 L219.0 1746.3 L223.0 1746.0 L227.0 1745.6 L231.0 1745.3 L235.0 1744.9 L239.0 1744.6 L243.0 1744.2 L247.0 1743.8 L251.0 1743.5 L255.0 1743.1 L259.0 1742.7 L263.0 1742.3 L267.0 1741.8 L271.0 1741.4 L275.0 1741.0 L279.0 1740.5 L283.0 1740.1 L287.0 1739.6 L291.0 1739.1 L295.0 1738.6 L299.0 1738.1 L303.0 1737.6 L307.0 1737.1 L311.0 1736.5 L315.0 1736.0 L319.0 1735.4 L323.0 1734.8 L327.0 1734.3 L331.0 1733.7 L335.0 1733.1 L339.0 1732.4 L343.0 1731.8 L347.0 1731.1 L351.0 1730.5 L355.0 1729.8 L359.0 1729.1 L363.0 1728.4 L367.0 1727.7 L371.0 1726.9 L375.0 1726.2 L379.0 1725.4 L383.0 1724.6 L387.0 1723.8 L391.0 1723.0 L395.0 1722.2 L399.0 1721.3 L403.0 1720.5 L407.0 1719.6 L411.0 1718.7 L415.0 1717.8 L419.0 1716.8 L423.0 1715.9 L427.0 1714.9 L431.0 1713.9 L435.0 1712.9 L439.0 1711.9 L443.0 1710.8 L447.0 1709.7 L451.0 1708.7 L455.0 1707.5 L459.0 1706.4 L463.0 1705.2 L467.0 1704.1 L471.0 1702.9 L475.0 1701.6 L479.0 1700.4 L483.0 1699.1 L487.0 1697.8 L491.0 1696.5 L495.0 1695.2 L499.0 1693.8 L503.0 1692.4 L507.0 1691.0 L511.0 1689.6 L515.0 1688.1 L519.0 1686.6 L523.0 1685.1 L527.0 1683.6 L531.0 1682.0 L535.0 1680.4 L539.0 1678.8 L543.0 1677.1 L547.0 1675.4 L551.0 1673.7 L555.0 1672.0 L559.0 1670.2 L563.0 1668.4 L567.0 1666.5 L571.0 1664.7 L575.0 1662.8 L579.0 1660.8 L583.0 1658.9 L587.0 1656.9 L591.0 1654.9 L595.0 1652.8 L599.0 1650.7 L603.0 1648.6 L607.0 1646.4 L611.0 1644.2 L615.0 1642.0 L619.0 1639.7 L623.0 1637.4 L627.0 1635.0 L631.0 1632.6 L635.0 1630.2 L639.0 1627.8 L643.0 1625.3 L647.0 1622.7 L651.0 1620.1 L655.0 1617.5 L659.0 1614.8 L663.0 1612.1 L667.0 1609.4 L671.0 1606.6 L675.0 1603.8 L679.0 1600.9 L683.0 1598.0 L687.0 1595.0 L691.0 1592.0 L695.0 1589.0 L699.0 1585.9 L703.0 1582.7 L707.0 1579.5 L711.0 1576.3 L715.0 1573.0 L719.0 1569.7 L723.0 1566.3 L727.0 1562.9 L731.0 1559.4 L735.0 1555.8 L739.0 1552.3 L743.0 1548.6 L747.0 1545.0 L751.0 1541.2 L755.0 1537.4 L759.0 1533.6 L763.0 1529.7 L767.0 1525.7 L771.0 1521.7 L775.0 1517.7 L779.0 1513.6 L783.0 1509.4 L787.0 1505.2 L791.0 1500.9 L795.0 1496.6 L799.0 1492.2 L803.0 1487.8 L807.0 1483.2 L811.0 1478.7 L815.0 1474.1 L819.0 1469.4 L823.0 1464.7 L827.0 1459.9 L831.0 1455.0 L835.0 1450.1 L839.0 1445.1 L843.0 1440.1 L847.0 1435.0 L851.0 1429.9 L855.0 1424.7 L859.0 1419.4 L863.0 1414.1 L867.0 1408.7 L871.0 1403.2 L875.0 1397.7 L879.0 1392.2 L883.0 1386.5 L887.0 1380.9 L891.0 1375.1 L895.0 1369.3 L899.0 1363.5 L903.0 1357.6 L907.0 1351.6 L911.0 1345.6 L915.0 1339.5 L919.0 1333.4 L923.0 1327.2 L927.0 1320.9 L931.0 1314.7 L935.0 1308.3 L939.0 1301.9 L943.0 1295.5 L947.0 1289.0 L951.0 1282.4 L955.0 1275.9 L959.0 1269.2 L963.0 1262.6 L967.0 1255.8 L971.0 1249.1 L975.0 1242.3 L979.0 1235.5 L983.0 1228.6 L987.0 1221.7 L991.0 1214.8 L995.0 1207.8 L999.0 1200.8 L1003.0 1193.8 L1007.0 1186.8 L1011.0 1179.7 L1015.0 1172.7 L1019.0 1165.6 L1023.0 1158.5 L1027.0 1151.4 L1031.0 1144.3 L1035.0 1137.2 L1039.0 1130.1 L1043.0 1123.0 L1047.0 1115.9 L1051.0 1108.8 L1055.0 1101.7 L1059.0 1094.6 L1063.0 1087.6 L1067.0 1080.6 L1071.0 1073.6 L1075.0 1066.7 L1079.0 1059.7 L1083.0 1052.9 L1087.0 1046.1 L1091.0 1039.3 L1095.0 1032.6 L1099.0 1025.9 L1103.0 1019.3 L1107.0 1012.8 L1111.0 1006.3 L1115.0 1000.0 L1119.0 993.7 L1123.0 987.5 L1127.0 981.4 L1131.0 975.3 L1135.0 969.4 L1139.0 963.6 L1143.0 957.9 L1147.0 952.4 L1151.0 946.9 L1155.0 941.6 L1159.0 936.4 L1163.0 931.3 L1167.0 926.4 L1171.0 921.6 L1175.0 917.0 L1179.0 912.5 L1183.0 908.2 L1187.0 904.1 L1191.0 900.1 L1195.0 896.3 L1199.0 892.7 L1203.0 889.2 L1207.0 886.0 L1211.0 882.9 L1215.0 880.0 L1219.0 877.3 L1223.0 874.8 L1227.0 872.5 L1231.0 870.4 L1235.0 868.5 L1239.0 866.8 L1243.0 865.4 L1247.0 864.1 L1251.0 863.1 L1255.0 862.2 L1259.0 861.6 L1263.0 861.2 L1267.0 861.0 L1271.0 861.0 L1275.0 861.3 L1279.0 861.7 L1283.0 862.4 L1287.0 863.3 L1291.0 864.4 L1295.0 865.7 L1299.0 867.2 L1303.0 869.0 L1307.0 870.9 L1311.0 873.1 L1315.0 875.4 L1319.0 878.0 L1323.0 880.7 L1327.0 883.6 L1331.0 886.8 L1335.0 890.1 L1339.0 893.6 L1343.0 897.2 L1347.0 901.1 L1351.0 905.1 L1355.0 909.3 L1359.0 913.6 L1363.0 918.1 L1367.0 922.8 L1371.0 927.6 L1375.0 932.6 L1379.0 937.7 L1383.0 942.9 L1387.0 948.3 L1391.0 953.7 L1395.0 959.3 L1399.0 965.1 L1403.0 970.9 L1407.0 976.8 L1411.0 982.9 L1415.0 989.0 L1419.0 995.2 L1423.0 1001.6 L1427.0 1007.9 L1431.0 1014.4 L1435.0 1021.0 L1439.0 1027.6 L1443.0 1034.2 L1447.0 1041.0 L1451.0 1047.8 L1455.0 1054.6 L1459.0 1061.5 L1463.0 1068.4 L1467.0 1075.3 L1471.0 1082.3 L1475.0 1089.4 L1479.0 1096.4 L1483.0 1103.5 L1487.0 1110.5 L1491.0 1117.6 L1495.0 1124.7 L1499.0 1131.8 L1503.0 1138.9 L1507.0 1146.1 L1511.0 1153.2 L1515.0 1160.3 L1519.0 1167.4 L1523.0 1174.4 L1527.0 1181.5 L1531.0 1188.5 L1535.0 1195.6 L1539.0 1202.6 L1543.0 1209.6 L1547.0 1216.5 L1551.0 1223.4 L1555.0 1230.3 L1559.0 1237.2 L1563.0 1244.0 L1567.0 1250.8 L1571.0 1257.5 L1575.0 1264.2 L1579.0 1270.9 L1583.0 1277.5 L1587.0 1284.1 L1591.0 1290.6 L1595.0 1297.1 L1599.0 1303.5 L1603.0 1309.9 L1607.0 1316.2 L1611.0 1322.5 L1615.0 1328.7 L1619.0 1334.9 L1623.0 1341.0 L1627.0 1347.1 L1631.0 1353.1 L1635.0 1359.1 L1639.0 1364.9 L1643.0 1370.8 L1647.0 1376.6 L1651.0 1382.3 L1655.0 1388.0 L1659.0 1393.6 L1663.0 1399.1 L1667.0 1404.6 L1671.0 1410.0 L1675.0 1415.4 L1679.0 1420.7 L1683.0 1426.0 L1687.0 1431.2 L1691.0 1436.3 L1695.0 1441.4 L1699.0 1446.4 L1703.0 1451.3 L1707.0 1456.2 L1711.0 1461.1 L1715.0 1465.8 L1719.0 1470.6 L1723.0 1475.2 L1727.0 1479.8 L1731.0 1484.4 L1735.0 1488.9 L1739.0 1493.3 L1743.0 1497.7 L1747.0 1502.0 L1751.0 1506.3 L1755.0 1510.5 L1759.0 1514.6 L1763.0 1518.7 L1767.0 1522.8 L1771.0 1526.7 L1775.0 1530.7 L1779.0 1534.6 L1783.0 1538.4 L1787.0 1542.2 L1791.0 1545.9 L1795.0 1549.5 L1799.0 1553.2 L1803.0 1556.7 L1807.0 1560.3 L1811.0 1563.7 L1815.0 1567.1 L1819.0 1570.5 L1823.0 1573.8 L1827.0 1577.1 L1831.0 1580.3 L1835.0 1583.5 L1839.0 1586.6 L1843.0 1589.7 L1847.0 1592.8 L1851.0 1595.8 L1855.0 1598.7 L1859.0 1601.6 L1863.0 1604.5 L1867.0 1607.3 L1871.0 1610.1 L1875.0 1612.8 L1879.0 1615.5 L1883.0 1618.2 L1887.0 1620.8 L1891.0 1623.4 L1895.0 1625.9 L1899.0 1628.4 L1903.0 1630.8 L1907.0 1633.2 L1911.0 1635.6 L1915.0 1638.0 L1919.0 1640.3 L1923.0 1642.5 L1927.0 1644.8 L1931.0 1646.9 L1935.0 1649.1 L1939.0 1651.2 L1943.0 1653.3 L1947.0 1655.4 L1951.0 1657.4 L1955.0 1659.4 L1959.0 1661.3 L1963.0 1663.3 L1967.0 1665.1 L1971.0 1667.0 L1975.0 1668.8 L1979.0 1670.6 L1983.0 1672.4 L1987.0 1674.1 L1991.0 1675.8 L1995.0 1677.5 L1999.0 1679.2 L2003.0 1680.8 L2007.0 1682.4 L2011.0 1683.9 L2015.0 1685.5 L2019.0 1687.0 L2023.0 1688.5 L2027.0 1689.9 L2031.0 1691.4 L2035.0 1692.8 L2039.0 1694.2 L2043.0 1695.5 L2047.0 1696.9 L2051.0 1698.2 L2055.0 1699.5 L2059.0 1700.7 L2063.0 1702.0 L2067.0 1703.2 L2071.0 1704.4 L2075.0 1705.5 L2079.0 1706.7 L2083.0 1707.8 L2087.0 1708.9 L2091.0 1710.0 L2095.0 1711.1 L2099.0 1712.1 L2103.0 1713.2 L2107.0 1714.2 L2111.0 1715.2 L2115.0 1716.1 L2119.0 1717.1 L2123.0 1718.0 L2127.0 1718.9 L2131.0 1719.8 L2135.0 1720.7 L2139.0 1721.6 L2143.0 1722.4 L2147.0 1723.2 L2151.0 1724.0 L2155.0 1724.8 L2159.0 1725.6 L2163.0 1726.4 L2167.0 1727.1 L2171.0 1727.9 L2175.0 1728.6 L2179.0 1729.3 L2183.0 1730.0 L2187.0 1730.6 L2191.0 1731.3 L2195.0 1732.0 L2199.0 1732.6 L2203.0 1733.2 L2207.0 1733.8 L2211.0 1734.4 L2215.0 1735.0 L2219.0 1735.6 L2223.0 1736.1 L2227.0 1736.7 L2231.0 1737.2 L2235.0 1737.7 L2239.0 1738.2 L2243.0 1738.7 L2247.0 1739.2 L2251.0 1739.7 L2255.0 1740.2 L2259.0 1740.6 L2263.0 1741.1 L2267.0 1741.5 L2271.0 1741.9 L2275.0 1742.4 L2279.0 1742.8 L2283.0 1743.2 L2287.0 1743.6 L2291.0 1743.9 L2295.0 1744.3 L2299.0 1744.7 L2303.0 1745.0 L2307.0 1745.4 L2311.0 1745.7 L2315.0 1746.1 L2319.0 1746.4 L2323.0 1746.7 L2327.0 1747.0 L2331.0 1747.3 L2335.0 1747.6 L2339.0 1747.9" fill="none" stroke="#82821a" stroke-width="8.8" stroke-linejoin="round"/>
<path d="M207.0 1744.2 L211.0 1743.8 L215.0 1743.3 L219.0 1742.9 L223.0 1742.5 L227.0 1742.0 L231.0 1741.6 L235.0 1741.1 L239.0 1740.7 L243.0 1740.2 L247.0 1739.7 L251.0 1739.2 L255.0 1738.7 L259.0 1738.2 L263.0 1737.6 L267.0 1737.1 L271.0 1736.5 L275.0 1736.0 L279.0 1735.4 L283.0 1734.8 L287.0 1734.2 L291.0 1733.6 L295.0 1733.0 L299.0 1732.3 L303.0 1731.7 L307.0 1731.0 L311.0 1730.4 L315.0 1729.7 L319.0 1729.0 L323.0 1728.3 L327.0 1727.6 L331.0 1726.8 L335.0 1726.1 L339.0 1725.3 L343.0 1724.5 L347.0 1723.7 L351.0 1722.9 L355.0 1722.1 L359.0 1721.2 L363.0 1720.4 L367.0 1719.5 L371.0 1718.6 L375.0 1717.7 L379.0 1716.8 L383.0 1715.8 L387.0 1714.9 L391.0 1713.9 L395.0 1712.9 L399.0 1711.9 L403.0 1710.8 L407.0 1709.8 L411.0 1708.7 L415.0 1707.6 L419.0 1706.5 L423.0 1705.4 L427.0 1704.2 L431.0 1703.0 L435.0 1701.8 L439.0 1700.6 L443.0 1699.4 L447.0 1698.1 L451.0 1696.8 L455.0 1695.5 L459.0 1694.2 L463.0 1692.8 L467.0 1691.4 L471.0 1690.0 L475.0 1688.6 L479.0 1687.1 L483.0 1685.6 L487.0 1684.1 L491.0 1682.6 L495.0 1681.0 L499.0 1679.4 L503.0 1677.8 L507.0 1676.1 L511.0 1674.4 L515.0 1672.7 L519.0 1671.0 L523.0 1669.2 L527.0 1667.4 L531.0 1665.5 L535.0 1663.7 L539.0 1661.8 L543.0 1659.8 L547.0 1657.9 L551.0 1655.9 L555.0 1653.8 L559.0 1651.7 L563.0 1649.6 L567.0 1647.5 L571.0 1645.3 L575.0 1643.1 L579.0 1640.8 L583.0 1638.5 L587.0 1636.2 L591.0 1633.8 L595.0 1631.4 L599.0 1628.9 L603.0 1626.5 L607.0 1623.9 L611.0 1621.3 L615.0 1618.7 L619.0 1616.0 L623.0 1613.3 L627.0 1610.6 L631.0 1607.8 L635.0 1604.9 L639.0 1602.0 L643.0 1599.1 L647.0 1596.1 L651.0 1593.0 L655.0 1589.9 L659.0 1586.8 L663.0 1583.6 L667.0 1580.4 L671.0 1577.1 L675.0 1573.7 L679.0 1570.3 L683.0 1566.9 L687.0 1563.4 L691.0 1559.8 L695.0 1556.2 L699.0 1552.5 L703.0 1548.8 L707.0 1545.0 L711.0 1541.2 L715.0 1537.3 L719.0 1533.3 L723.0 1529.3 L727.0 1525.2 L731.0 1521.1 L735.0 1516.9 L739.0 1512.6 L743.0 1508.3 L747.0 1503.9 L751.0 1499.5 L755.0 1495.0 L759.0 1490.4 L763.0 1485.7 L767.0 1481.0 L771.0 1476.3 L775.0 1471.4 L779.0 1466.5 L783.0 1461.6 L787.0 1456.5 L791.0 1451.4 L795.0 1446.2 L799.0 1441.0 L803.0 1435.7 L807.0 1430.3 L811.0 1424.9 L815.0 1419.4 L819.0 1413.8 L823.0 1408.1 L827.0 1402.4 L831.0 1396.6 L835.0 1390.8 L839.0 1384.8 L843.0 1378.8 L847.0 1372.8 L851.0 1366.6 L855.0 1360.4 L859.0 1354.2 L863.0 1347.8 L867.0 1341.4 L871.0 1335.0 L875.0 1328.4 L879.0 1321.8 L883.0 1315.2 L887.0 1308.4 L891.0 1301.6 L895.0 1294.8 L899.0 1287.9 L903.0 1280.9 L907.0 1273.8 L911.0 1266.7 L915.0 1259.6 L919.0 1252.4 L923.0 1245.1 L927.0 1237.8 L931.0 1230.4 L935.0 1223.0 L939.0 1215.5 L943.0 1207.9 L947.0 1200.4 L951.0 1192.7 L955.0 1185.1 L959.0 1177.4 L963.0 1169.6 L967.0 1161.8 L971.0 1154.0 L975.0 1146.2 L979.0 1138.3 L983.0 1130.4 L987.0 1122.5 L991.0 1114.5 L995.0 1106.5 L999.0 1098.5 L1003.0 1090.5 L1007.0 1082.5 L1011.0 1074.5 L1015.0 1066.5 L1019.0 1058.5 L1023.0 1050.4 L1027.0 1042.4 L1031.0 1034.4 L1035.0 1026.4 L1039.0 1018.4 L1043.0 1010.5 L1047.0 1002.5 L1051.0 994.6 L1055.0 986.8 L1059.0 978.9 L1063.0 971.1 L1067.0 963.4 L1071.0 955.7 L1075.0 948.0 L1079.0 940.4 L1083.0 932.9 L1087.0 925.4 L1091.0 918.0 L1095.0 910.7 L1099.0 903.5 L1103.0 896.3 L1107.0 889.3 L1111.0 882.3 L1115.0 875.4 L1119.0 868.6 L1123.0 862.0 L1127.0 855.4 L1131.0 849.0 L1135.0 842.7 L1139.0 836.5 L1143.0 830.5 L1147.0 824.6 L1151.0 818.8 L1155.0 813.2 L1159.0 807.7 L1163.0 802.4 L1167.0 797.2 L1171.0 792.2 L1175.0 787.4 L1179.0 782.7 L1183.0 778.2 L1187.0 773.9 L1191.0 769.7 L1195.0 765.8 L1199.0 762.0 L1203.0 758.4 L1207.0 755.1 L1211.0 751.9 L1215.0 748.9 L1219.0 746.1 L1223.0 743.6 L1227.0 741.2 L1231.0 739.1 L1235.0 737.1 L1239.0 735.4 L1243.0 733.9 L1247.0 732.6 L1251.0 731.5 L1255.0 730.7 L1259.0 730.0 L1263.0 729.6 L1267.0 729.4 L1271.0 729.4 L1275.0 729.7 L1279.0 730.2 L1283.0 730.9 L1287.0 731.8 L1291.0 732.9 L1295.0 734.2 L1299.0 735.8 L1303.0 737.6 L1307.0 739.6 L1311.0 741.8 L1315.0 744.2 L1319.0 746.8 L1323.0 749.6 L1327.0 752.7 L1331.0 755.9 L1335.0 759.3 L1339.0 762.9 L1343.0 766.8 L1347.0 770.8 L1351.0 774.9 L1355.0 779.3 L1359.0 783.8 L1363.0 788.5 L1367.0 793.4 L1371.0 798.5 L1375.0 803.7 L1379.0 809.0 L1383.0 814.6 L1387.0 820.2 L1391.0 826.0 L1395.0 832.0 L1399.0 838.1 L1403.0 844.3 L1407.0 850.6 L1411.0 857.1 L1415.0 863.6 L1419.0 870.3 L1423.0 877.1 L1427.0 884.0 L1431.0 891.0 L1435.0 898.1 L1439.0 905.3 L1443.0 912.5 L1447.0 919.9 L1451.0 927.3 L1455.0 934.8 L1459.0 942.3 L1463.0 949.9 L1467.0 957.6 L1471.0 965.3 L1475.0 973.1 L1479.0 980.9 L1483.0 988.7 L1487.0 996.6 L1491.0 1004.5 L1495.0 1012.5 L1499.0 1020.4 L1503.0 1028.4 L1507.0 1036.4 L1511.0 1044.4 L1515.0 1052.4 L1519.0 1060.5 L1523.0 1068.5 L1527.0 1076.5 L1531.0 1084.5 L1535.0 1092.5 L1539.0 1100.5 L1543.0 1108.5 L1547.0 1116.5 L1551.0 1124.4 L1555.0 1132.4 L1559.0 1140.3 L1563.0 1148.1 L1567.0 1156.0 L1571.0 1163.8 L1575.0 1171.6 L1579.0 1179.3 L1583.0 1187.0 L1587.0 1194.7 L1591.0 1202.3 L1595.0 1209.8 L1599.0 1217.3 L1603.0 1224.8 L1607.0 1232.2 L1611.0 1239.6 L1615.0 1246.9 L1619.0 1254.2 L1623.0 1261.4 L1627.0 1268.5 L1631.0 1275.6 L1635.0 1282.6 L1639.0 1289.6 L1643.0 1296.5 L1647.0 1303.3 L1651.0 1310.1 L1655.0 1316.8 L1659.0 1323.5 L1663.0 1330.1 L1667.0 1336.6 L1671.0 1343.0 L1675.0 1349.4 L1679.0 1355.8 L1683.0 1362.0 L1687.0 1368.2 L1691.0 1374.3 L1695.0 1380.3 L1699.0 1386.3 L1703.0 1392.2 L1707.0 1398.1 L1711.0 1403.8 L1715.0 1409.5 L1719.0 1415.2 L1723.0 1420.7 L1727.0 1426.2 L1731.0 1431.7 L1735.0 1437.0 L1739.0 1442.3 L1743.0 1447.5 L1747.0 1452.7 L1751.0 1457.8 L1755.0 1462.8 L1759.0 1467.8 L1763.0 1472.6 L1767.0 1477.5 L1771.0 1482.2 L1775.0 1486.9 L1779.0 1491.5 L1783.0 1496.1 L1787.0 1500.6 L1791.0 1505.0 L1795.0 1509.4 L1799.0 1513.7 L1803.0 1518.0 L1807.0 1522.1 L1811.0 1526.3 L1815.0 1530.3 L1819.0 1534.3 L1823.0 1538.3 L1827.0 1542.2 L1831.0 1546.0 L1835.0 1549.8 L1839.0 1553.5 L1843.0 1557.1 L1847.0 1560.7 L1851.0 1564.3 L1855.0 1567.8 L1859.0 1571.2 L1863.0 1574.6 L1867.0 1577.9 L1871.0 1581.2 L1875.0 1584.4 L1879.0 1587.6 L1883.0 1590.7 L1887.0 1593.8 L1891.0 1596.8 L1895.0 1599.8 L1899.0 1602.7 L1903.0 1605.6 L1907.0 1608.5 L1911.0 1611.3 L1915.0 1614.0 L1919.0 1616.7 L1923.0 1619.4 L1927.0 1622.0 L1931.0 1624.5 L1935.0 1627.1 L1939.0 1629.6 L1943.0 1632.0 L1947.0 1634.4 L1951.0 1636.8 L1955.0 1639.1 L1959.0 1641.4 L1963.0 1643.6 L1967.0 1645.9 L1971.0 1648.0 L1975.0 1650.2 L1979.0 1652.3 L1983.0 1654.3 L1987.0 1656.4 L1991.0 1658.4 L1995.0 1660.3 L1999.0 1662.3 L2003.0 1664.1 L2007.0 1666.0 L2011.0 1667.8 L2015.0 1669.6 L2019.0 1671.4 L2023.0 1673.1 L2027.0 1674.8 L2031.0 1676.5 L2035.0 1678.2 L2039.0 1679.8 L2043.0 1681.4 L2047.0 1682.9 L2051.0 1684.5 L2055.0 1686.0 L2059.0 1687.5 L2063.0 1688.9 L2067.0 1690.4 L2071.0 1691.8 L2075.0 1693.1 L2079.0 1694.5 L2083.0 1695.8 L2087.0 1697.1 L2091.0 1698.4 L2095.0 1699.7 L2099.0 1700.9 L2103.0 1702.1 L2107.0 1703.3 L2111.0 1704.5 L2115.0 1705.7 L2119.0 1706.8 L2123.0 1707.9 L2127.0 1709.0 L2131.0 1710.0 L2135.0 1711.1 L2139.0 1712.1 L2143.0 1713.1 L2147.0 1714.1 L2151.0 1715.1 L2155.0 1716.1 L2159.0 1717.0 L2163.0 1717.9 L2167.0 1718.8 L2171.0 1719.7 L2175.0 1720.6 L2179.0 1721.4 L2183.0 1722.3 L2187.0 1723.1 L2191.0 1723.9 L2195.0 1724.7 L2199.0 1725.5 L2203.0 1726.3 L2207.0 1727.0 L2211.0 1727.7 L2215.0 1728.5 L2219.0 1729.2 L2223.0 1729.9 L2227.0 1730.5 L2231.0 1731.2 L2235.0 1731.9 L2239.0 1732.5 L2243.0 1733.1 L2247.0 1733.8 L2251.0 1734.4 L2255.0 1735.0 L2259.0 1735.5 L2263.0 1736.1 L2267.0 1736.7 L2271.0 1737.2 L2275.0 1737.8 L2279.0 1738.3 L2283.0 1738.8 L2287.0 1739.3 L2291.0 1739.8 L2295.0 1740.3 L2299.0 1740.8 L2303.0 1741.2 L2307.0 1741.7 L2311.0 1742.1 L2315.0 1742.6 L2319.0 1743.0 L2323.0 1743.4 L2327.0 1743.9 L2331.0 1744.3 L2335.0 1744.7 L2339.0 1745.1" fill="none" stroke="#ee18e6" stroke-width="8.8" stroke-linejoin="round"/>
<path d="M207.0 1740.4 L211.0 1739.9 L215.0 1739.4 L219.0 1738.9 L223.0 1738.4 L227.0 1737.8 L231.0 1737.3 L235.0 1736.8 L239.0 1736.2 L243.0 1735.6 L247.0 1735.0 L251.0 1734.5 L255.0 1733.9 L259.0 1733.2 L263.0 1732.6 L267.0 1732.0 L271.0 1731.3 L275.0 1730.6 L279.0 1730.0 L283.0 1729.3 L287.0 1728.6 L291.0 1727.8 L295.0 1727.1 L299.0 1726.4 L303.0 1725.6 L307.0 1724.8 L311.0 1724.0 L315.0 1723.2 L319.0 1722.4 L323.0 1721.6 L327.0 1720.7 L331.0 1719.8 L335.0 1718.9 L339.0 1718.0 L343.0 1717.1 L347.0 1716.2 L351.0 1715.2 L355.0 1714.2 L359.0 1713.2 L363.0 1712.2 L367.0 1711.2 L371.0 1710.1 L375.0 1709.0 L379.0 1708.0 L383.0 1706.8 L387.0 1705.7 L391.0 1704.5 L395.0 1703.4 L399.0 1702.2 L403.0 1700.9 L407.0 1699.7 L411.0 1698.4 L415.0 1697.1 L419.0 1695.8 L423.0 1694.5 L427.0 1693.1 L431.0 1691.7 L435.0 1690.3 L439.0 1688.9 L443.0 1687.4 L447.0 1685.9 L451.0 1684.4 L455.0 1682.8 L459.0 1681.2 L463.0 1679.6 L467.0 1678.0 L471.0 1676.3 L475.0 1674.6 L479.0 1672.9 L483.0 1671.1 L487.0 1669.4 L491.0 1667.5 L495.0 1665.7 L499.0 1663.8 L503.0 1661.9 L507.0 1659.9 L511.0 1657.9 L515.0 1655.9 L519.0 1653.8 L523.0 1651.7 L527.0 1649.6 L531.0 1647.4 L535.0 1645.2 L539.0 1643.0 L543.0 1640.7 L547.0 1638.3 L551.0 1636.0 L555.0 1633.6 L559.0 1631.1 L563.0 1628.6 L567.0 1626.1 L571.0 1623.5 L575.0 1620.9 L579.0 1618.2 L583.0 1615.5 L587.0 1612.7 L591.0 1609.9 L595.0 1607.1 L599.0 1604.2 L603.0 1601.2 L607.0 1598.2 L611.0 1595.1 L615.0 1592.0 L619.0 1588.9 L623.0 1585.7 L627.0 1582.4 L631.0 1579.1 L635.0 1575.7 L639.0 1572.3 L643.0 1568.8 L647.0 1565.3 L651.0 1561.7 L655.0 1558.1 L659.0 1554.4 L663.0 1550.6 L667.0 1546.8 L671.0 1542.9 L675.0 1538.9 L679.0 1534.9 L683.0 1530.8 L687.0 1526.7 L691.0 1522.5 L695.0 1518.3 L699.0 1513.9 L703.0 1509.5 L707.0 1505.1 L711.0 1500.5 L715.0 1495.9 L719.0 1491.3 L723.0 1486.6 L727.0 1481.8 L731.0 1476.9 L735.0 1471.9 L739.0 1466.9 L743.0 1461.8 L747.0 1456.7 L751.0 1451.5 L755.0 1446.2 L759.0 1440.8 L763.0 1435.3 L767.0 1429.8 L771.0 1424.2 L775.0 1418.6 L779.0 1412.8 L783.0 1407.0 L787.0 1401.1 L791.0 1395.1 L795.0 1389.1 L799.0 1382.9 L803.0 1376.7 L807.0 1370.5 L811.0 1364.1 L815.0 1357.7 L819.0 1351.1 L823.0 1344.6 L827.0 1337.9 L831.0 1331.2 L835.0 1324.3 L839.0 1317.4 L843.0 1310.5 L847.0 1303.4 L851.0 1296.3 L855.0 1289.1 L859.0 1281.8 L863.0 1274.5 L867.0 1267.1 L871.0 1259.6 L875.0 1252.0 L879.0 1244.4 L883.0 1236.7 L887.0 1228.9 L891.0 1221.1 L895.0 1213.2 L899.0 1205.2 L903.0 1197.2 L907.0 1189.1 L911.0 1180.9 L915.0 1172.7 L919.0 1164.4 L923.0 1156.1 L927.0 1147.7 L931.0 1139.2 L935.0 1130.7 L939.0 1122.2 L943.0 1113.6 L947.0 1104.9 L951.0 1096.2 L955.0 1087.5 L959.0 1078.7 L963.0 1069.9 L967.0 1061.1 L971.0 1052.2 L975.0 1043.3 L979.0 1034.4 L983.0 1025.4 L987.0 1016.4 L991.0 1007.4 L995.0 998.4 L999.0 989.4 L1003.0 980.4 L1007.0 971.4 L1011.0 962.3 L1015.0 953.3 L1019.0 944.3 L1023.0 935.3 L1027.0 926.3 L1031.0 917.3 L1035.0 908.4 L1039.0 899.4 L1043.0 890.5 L1047.0 881.7 L1051.0 872.8 L1055.0 864.1 L1059.0 855.3 L1063.0 846.7 L1067.0 838.0 L1071.0 829.5 L1075.0 821.0 L1079.0 812.6 L1083.0 804.2 L1087.0 796.0 L1091.0 787.8 L1095.0 779.7 L1099.0 771.7 L1103.0 763.8 L1107.0 756.0 L1111.0 748.4 L1115.0 740.8 L1119.0 733.4 L1123.0 726.0 L1127.0 718.8 L1131.0 711.8 L1135.0 704.9 L1139.0 698.1 L1143.0 691.5 L1147.0 685.0 L1151.0 678.7 L1155.0 672.6 L1159.0 666.6 L1163.0 660.8 L1167.0 655.1 L1171.0 649.7 L1175.0 644.4 L1179.0 639.3 L1183.0 634.4 L1187.0 629.7 L1191.0 625.2 L1195.0 620.9 L1199.0 616.9 L1203.0 613.0 L1207.0 609.3 L1211.0 605.9 L1215.0 602.6 L1219.0 599.6 L1223.0 596.8 L1227.0 594.3 L1231.0 592.0 L1235.0 589.9 L1239.0 588.0 L1243.0 586.3 L1247.0 584.9 L1251.0 583.8 L1255.0 582.9 L1259.0 582.2 L1263.0 581.7 L1267.0 581.5 L1271.0 581.5 L1275.0 581.8 L1279.0 582.3 L1283.0 583.1 L1287.0 584.1 L1291.0 585.3 L1295.0 586.7 L1299.0 588.4 L1303.0 590.4 L1307.0 592.5 L1311.0 594.9 L1315.0 597.5 L1319.0 600.4 L1323.0 603.4 L1327.0 606.7 L1331.0 610.2 L1335.0 613.9 L1339.0 617.9 L1343.0 622.0 L1347.0 626.3 L1351.0 630.9 L1355.0 635.6 L1359.0 640.6 L1363.0 645.7 L1367.0 651.0 L1371.0 656.5 L1375.0 662.2 L1379.0 668.1 L1383.0 674.1 L1387.0 680.3 L1391.0 686.6 L1395.0 693.1 L1399.0 699.8 L1403.0 706.6 L1407.0 713.5 L1411.0 720.6 L1415.0 727.9 L1419.0 735.2 L1423.0 742.7 L1427.0 750.3 L1431.0 758.0 L1435.0 765.8 L1439.0 773.7 L1443.0 781.7 L1447.0 789.8 L1451.0 798.0 L1455.0 806.3 L1459.0 814.7 L1463.0 823.1 L1467.0 831.6 L1471.0 840.2 L1475.0 848.8 L1479.0 857.5 L1483.0 866.3 L1487.0 875.1 L1491.0 883.9 L1495.0 892.8 L1499.0 901.7 L1503.0 910.6 L1507.0 919.5 L1511.0 928.5 L1515.0 937.5 L1519.0 946.5 L1523.0 955.6 L1527.0 964.6 L1531.0 973.6 L1535.0 982.6 L1539.0 991.7 L1543.0 1000.7 L1547.0 1009.7 L1551.0 1018.7 L1555.0 1027.6 L1559.0 1036.6 L1563.0 1045.5 L1567.0 1054.4 L1571.0 1063.3 L1575.0 1072.1 L1579.0 1080.9 L1583.0 1089.7 L1587.0 1098.4 L1591.0 1107.1 L1595.0 1115.7 L1599.0 1124.3 L1603.0 1132.9 L1607.0 1141.3 L1611.0 1149.8 L1615.0 1158.2 L1619.0 1166.5 L1623.0 1174.8 L1627.0 1183.0 L1631.0 1191.1 L1635.0 1199.2 L1639.0 1207.2 L1643.0 1215.2 L1647.0 1223.1 L1651.0 1230.9 L1655.0 1238.6 L1659.0 1246.3 L1663.0 1253.9 L1667.0 1261.5 L1671.0 1268.9 L1675.0 1276.3 L1679.0 1283.7 L1683.0 1290.9 L1687.0 1298.1 L1691.0 1305.2 L1695.0 1312.2 L1699.0 1319.2 L1703.0 1326.0 L1707.0 1332.8 L1711.0 1339.6 L1715.0 1346.2 L1719.0 1352.8 L1723.0 1359.3 L1727.0 1365.7 L1731.0 1372.0 L1735.0 1378.3 L1739.0 1384.5 L1743.0 1390.6 L1747.0 1396.6 L1751.0 1402.6 L1755.0 1408.4 L1759.0 1414.3 L1763.0 1420.0 L1767.0 1425.6 L1771.0 1431.2 L1775.0 1436.7 L1779.0 1442.1 L1783.0 1447.5 L1787.0 1452.8 L1791.0 1458.0 L1795.0 1463.1 L1799.0 1468.2 L1803.0 1473.2 L1807.0 1478.1 L1811.0 1483.0 L1815.0 1487.7 L1819.0 1492.5 L1823.0 1497.1 L1827.0 1501.7 L1831.0 1506.2 L1835.0 1510.6 L1839.0 1515.0 L1843.0 1519.3 L1847.0 1523.6 L1851.0 1527.8 L1855.0 1531.9 L1859.0 1535.9 L1863.0 1539.9 L1867.0 1543.9 L1871.0 1547.7 L1875.0 1551.5 L1879.0 1555.3 L1883.0 1559.0 L1887.0 1562.6 L1891.0 1566.2 L1895.0 1569.7 L1899.0 1573.2 L1903.0 1576.6 L1907.0 1579.9 L1911.0 1583.2 L1915.0 1586.5 L1919.0 1589.7 L1923.0 1592.8 L1927.0 1595.9 L1931.0 1599.0 L1935.0 1601.9 L1939.0 1604.9 L1943.0 1607.8 L1947.0 1610.6 L1951.0 1613.4 L1955.0 1616.2 L1959.0 1618.9 L1963.0 1621.5 L1967.0 1624.2 L1971.0 1626.7 L1975.0 1629.2 L1979.0 1631.7 L1983.0 1634.2 L1987.0 1636.6 L1991.0 1638.9 L1995.0 1641.3 L1999.0 1643.5 L2003.0 1645.8 L2007.0 1648.0 L2011.0 1650.1 L2015.0 1652.3 L2019.0 1654.4 L2023.0 1656.4 L2027.0 1658.4 L2031.0 1660.4 L2035.0 1662.4 L2039.0 1664.3 L2043.0 1666.1 L2047.0 1668.0 L2051.0 1669.8 L2055.0 1671.6 L2059.0 1673.3 L2063.0 1675.1 L2067.0 1676.8 L2071.0 1678.4 L2075.0 1680.0 L2079.0 1681.6 L2083.0 1683.2 L2087.0 1684.8 L2091.0 1686.3 L2095.0 1687.8 L2099.0 1689.2 L2103.0 1690.7 L2107.0 1692.1 L2111.0 1693.5 L2115.0 1694.8 L2119.0 1696.1 L2123.0 1697.5 L2127.0 1698.7 L2131.0 1700.0 L2135.0 1701.3 L2139.0 1702.5 L2143.0 1703.7 L2147.0 1704.8 L2151.0 1706.0 L2155.0 1707.1 L2159.0 1708.2 L2163.0 1709.3 L2167.0 1710.4 L2171.0 1711.4 L2175.0 1712.5 L2179.0 1713.5 L2183.0 1714.5 L2187.0 1715.4 L2191.0 1716.4 L2195.0 1717.3 L2199.0 1718.3 L2203.0 1719.2 L2207.0 1720.0 L2211.0 1720.9 L2215.0 1721.8 L2219.0 1722.6 L2223.0 1723.4 L2227.0 1724.2 L2231.0 1725.0 L2235.0 1725.8 L2239.0 1726.5 L2243.0 1727.3 L2247.0 1728.0 L2251.0 1728.7 L2255.0 1729.4 L2259.0 1730.1 L2263.0 1730.8 L2267.0 1731.5 L2271.0 1732.1 L2275.0 1732.8 L2279.0 1733.4 L2283.0 1734.0 L2287.0 1734.6 L2291.0 1735.2 L2295.0 1735.8 L2299.0 1736.3 L2303.0 1736.9 L2307.0 1737.4 L2311.0 1738.0 L2315.0 1738.5 L2319.0 1739.0 L2323.0 1739.5 L2327.0 1740.0 L2331.0 1740.5 L2335.0 1741.0 L2339.0 1741.4" fill="none" stroke="#1208d8" stroke-width="8.8" stroke-linejoin="round"/>
<path d="M207.0 1735.4 L211.0 1734.9 L215.0 1734.4 L219.0 1733.9 L223.0 1733.4 L227.0 1732.9 L231.0 1732.4 L235.0 1731.8 L239.0 1731.3 L243.0 1730.7 L247.0 1730.1 L251.0 1729.5 L255.0 1728.9 L259.0 1728.2 L263.0 1727.6 L267.0 1726.9 L271.0 1726.3 L275.0 1725.6 L279.0 1724.9 L283.0 1724.1 L287.0 1723.4 L291.0 1722.6 L295.0 1721.9 L299.0 1721.1 L303.0 1720.2 L307.0 1719.4 L311.0 1718.6 L315.0 1717.7 L319.0 1716.8 L323.0 1715.9 L327.0 1714.9 L331.0 1714.0 L335.0 1713.0 L339.0 1712.0 L343.0 1711.0 L347.0 1710.0 L351.0 1708.9 L355.0 1707.8 L359.0 1706.7 L363.0 1705.6 L367.0 1704.4 L371.0 1703.2 L375.0 1702.0 L379.0 1700.7 L383.0 1699.5 L387.0 1698.2 L391.0 1696.9 L395.0 1695.5 L399.0 1694.1 L403.0 1692.7 L407.0 1691.3 L411.0 1689.8 L415.0 1688.3 L419.0 1686.7 L423.0 1685.2 L427.0 1683.6 L431.0 1681.9 L435.0 1680.3 L439.0 1678.6 L443.0 1676.8 L447.0 1675.0 L451.0 1673.2 L455.0 1671.4 L459.0 1669.5 L463.0 1667.6 L467.0 1665.6 L471.0 1663.6 L475.0 1661.5 L479.0 1659.5 L483.0 1657.3 L487.0 1655.2 L491.0 1652.9 L495.0 1650.7 L499.0 1648.4 L503.0 1646.0 L507.0 1643.6 L511.0 1641.2 L515.0 1638.7 L519.0 1636.2 L523.0 1633.6 L527.0 1631.0 L531.0 1628.3 L535.0 1625.6 L539.0 1622.8 L543.0 1619.9 L547.0 1617.1 L551.0 1614.1 L555.0 1611.1 L559.0 1608.1 L563.0 1605.0 L567.0 1601.8 L571.0 1598.6 L575.0 1595.3 L579.0 1592.0 L583.0 1588.6 L587.0 1585.1 L591.0 1581.6 L595.0 1578.1 L599.0 1574.4 L603.0 1570.7 L607.0 1567.0 L611.0 1563.2 L615.0 1559.3 L619.0 1555.3 L623.0 1551.3 L627.0 1547.2 L631.0 1543.1 L635.0 1538.9 L639.0 1534.6 L643.0 1530.2 L647.0 1525.8 L651.0 1521.3 L655.0 1516.8 L659.0 1512.1 L663.0 1507.4 L667.0 1502.7 L671.0 1497.8 L675.0 1492.9 L679.0 1487.9 L683.0 1482.8 L687.0 1477.7 L691.0 1472.5 L695.0 1467.2 L699.0 1461.8 L703.0 1456.4 L707.0 1450.9 L711.0 1445.3 L715.0 1439.6 L719.0 1433.8 L723.0 1428.0 L727.0 1422.1 L731.0 1416.1 L735.0 1410.1 L739.0 1403.9 L743.0 1397.7 L747.0 1391.4 L751.0 1385.0 L755.0 1378.6 L759.0 1372.0 L763.0 1365.4 L767.0 1358.7 L771.0 1351.9 L775.0 1345.1 L779.0 1338.2 L783.0 1331.1 L787.0 1324.1 L791.0 1316.9 L795.0 1309.7 L799.0 1302.3 L803.0 1294.9 L807.0 1287.5 L811.0 1279.9 L815.0 1272.3 L819.0 1264.6 L823.0 1256.8 L827.0 1249.0 L831.0 1241.1 L835.0 1233.1 L839.0 1225.0 L843.0 1216.9 L847.0 1208.7 L851.0 1200.4 L855.0 1192.1 L859.0 1183.7 L863.0 1175.2 L867.0 1166.6 L871.0 1158.1 L875.0 1149.4 L879.0 1140.7 L883.0 1131.9 L887.0 1123.1 L891.0 1114.2 L895.0 1105.2 L899.0 1096.2 L903.0 1087.2 L907.0 1078.1 L911.0 1069.0 L915.0 1059.8 L919.0 1050.5 L923.0 1041.3 L927.0 1032.0 L931.0 1022.6 L935.0 1013.3 L939.0 1003.8 L943.0 994.4 L947.0 984.9 L951.0 975.5 L955.0 966.0 L959.0 956.4 L963.0 946.9 L967.0 937.3 L971.0 927.8 L975.0 918.2 L979.0 908.6 L983.0 899.0 L987.0 889.5 L991.0 879.9 L995.0 870.3 L999.0 860.8 L1003.0 851.3 L1007.0 841.7 L1011.0 832.3 L1015.0 822.8 L1019.0 813.4 L1023.0 804.0 L1027.0 794.6 L1031.0 785.3 L1035.0 776.0 L1039.0 766.8 L1043.0 757.6 L1047.0 748.5 L1051.0 739.4 L1055.0 730.4 L1059.0 721.5 L1063.0 712.7 L1067.0 703.9 L1071.0 695.2 L1075.0 686.6 L1079.0 678.1 L1083.0 669.6 L1087.0 661.3 L1091.0 653.1 L1095.0 645.0 L1099.0 637.0 L1103.0 629.1 L1107.0 621.3 L1111.0 613.7 L1115.0 606.1 L1119.0 598.8 L1123.0 591.5 L1127.0 584.4 L1131.0 577.4 L1135.0 570.6 L1139.0 563.9 L1143.0 557.4 L1147.0 551.1 L1151.0 544.9 L1155.0 538.9 L1159.0 533.0 L1163.0 527.3 L1167.0 521.8 L1171.0 516.5 L1175.0 511.4 L1179.0 506.4 L1183.0 501.7 L1187.0 497.1 L1191.0 492.8 L1195.0 488.6 L1199.0 484.7 L1203.0 480.9 L1207.0 477.4 L1211.0 474.1 L1215.0 470.9 L1219.0 468.0 L1223.0 465.4 L1227.0 462.9 L1231.0 460.6 L1235.0 458.6 L1239.0 456.8 L1243.0 455.3 L1247.0 453.9 L1251.0 452.8 L1255.0 451.9 L1259.0 451.2 L1263.0 450.8 L1267.0 450.6 L1271.0 450.6 L1275.0 450.9 L1279.0 451.4 L1283.0 452.1 L1287.0 453.1 L1291.0 454.2 L1295.0 455.6 L1299.0 457.3 L1303.0 459.1 L1307.0 461.2 L1311.0 463.5 L1315.0 466.0 L1319.0 468.7 L1323.0 471.7 L1327.0 474.9 L1331.0 478.2 L1335.0 481.8 L1339.0 485.6 L1343.0 489.6 L1347.0 493.9 L1351.0 498.3 L1355.0 502.9 L1359.0 507.7 L1363.0 512.7 L1367.0 517.8 L1371.0 523.2 L1375.0 528.7 L1379.0 534.5 L1383.0 540.3 L1387.0 546.4 L1391.0 552.6 L1395.0 559.0 L1399.0 565.6 L1403.0 572.3 L1407.0 579.2 L1411.0 586.2 L1415.0 593.3 L1419.0 600.6 L1423.0 608.0 L1427.0 615.6 L1431.0 623.2 L1435.0 631.0 L1439.0 639.0 L1443.0 647.0 L1447.0 655.1 L1451.0 663.4 L1455.0 671.7 L1459.0 680.2 L1463.0 688.7 L1467.0 697.4 L1471.0 706.1 L1475.0 714.9 L1479.0 723.7 L1483.0 732.7 L1487.0 741.7 L1491.0 750.7 L1495.0 759.9 L1499.0 769.1 L1503.0 778.3 L1507.0 787.6 L1511.0 796.9 L1515.0 806.3 L1519.0 815.7 L1523.0 825.2 L1527.0 834.6 L1531.0 844.1 L1535.0 853.6 L1539.0 863.2 L1543.0 872.7 L1547.0 882.3 L1551.0 891.9 L1555.0 901.4 L1559.0 911.0 L1563.0 920.6 L1567.0 930.2 L1571.0 939.7 L1575.0 949.3 L1579.0 958.8 L1583.0 968.3 L1587.0 977.8 L1591.0 987.3 L1595.0 996.8 L1599.0 1006.2 L1603.0 1015.6 L1607.0 1025.0 L1611.0 1034.3 L1615.0 1043.6 L1619.0 1052.9 L1623.0 1062.1 L1627.0 1071.2 L1631.0 1080.4 L1635.0 1089.5 L1639.0 1098.5 L1643.0 1107.5 L1647.0 1116.4 L1651.0 1125.3 L1655.0 1134.1 L1659.0 1142.9 L1663.0 1151.6 L1667.0 1160.2 L1671.0 1168.8 L1675.0 1177.3 L1679.0 1185.8 L1683.0 1194.1 L1687.0 1202.5 L1691.0 1210.7 L1695.0 1218.9 L1699.0 1227.0 L1703.0 1235.1 L1707.0 1243.0 L1711.0 1250.9 L1715.0 1258.8 L1719.0 1266.5 L1723.0 1274.2 L1727.0 1281.8 L1731.0 1289.3 L1735.0 1296.8 L1739.0 1304.2 L1743.0 1311.5 L1747.0 1318.7 L1751.0 1325.8 L1755.0 1332.9 L1759.0 1339.9 L1763.0 1346.8 L1767.0 1353.6 L1771.0 1360.4 L1775.0 1367.1 L1779.0 1373.7 L1783.0 1380.2 L1787.0 1386.6 L1791.0 1393.0 L1795.0 1399.3 L1799.0 1405.5 L1803.0 1411.6 L1807.0 1417.6 L1811.0 1423.6 L1815.0 1429.5 L1819.0 1435.3 L1823.0 1441.0 L1827.0 1446.7 L1831.0 1452.2 L1835.0 1457.7 L1839.0 1463.2 L1843.0 1468.5 L1847.0 1473.8 L1851.0 1479.0 L1855.0 1484.1 L1859.0 1489.2 L1863.0 1494.1 L1867.0 1499.0 L1871.0 1503.9 L1875.0 1508.6 L1879.0 1513.3 L1883.0 1517.9 L1887.0 1522.5 L1891.0 1526.9 L1895.0 1531.3 L1899.0 1535.7 L1903.0 1539.9 L1907.0 1544.1 L1911.0 1548.3 L1915.0 1552.3 L1919.0 1556.3 L1923.0 1560.3 L1927.0 1564.1 L1931.0 1567.9 L1935.0 1571.7 L1939.0 1575.3 L1943.0 1579.0 L1947.0 1582.5 L1951.0 1586.0 L1955.0 1589.5 L1959.0 1592.8 L1963.0 1596.1 L1967.0 1599.4 L1971.0 1602.6 L1975.0 1605.7 L1979.0 1608.8 L1983.0 1611.9 L1987.0 1614.9 L1991.0 1617.8 L1995.0 1620.7 L1999.0 1623.5 L2003.0 1626.2 L2007.0 1629.0 L2011.0 1631.6 L2015.0 1634.2 L2019.0 1636.8 L2023.0 1639.3 L2027.0 1641.8 L2031.0 1644.2 L2035.0 1646.6 L2039.0 1649.0 L2043.0 1651.2 L2047.0 1653.5 L2051.0 1655.7 L2055.0 1657.9 L2059.0 1660.0 L2063.0 1662.1 L2067.0 1664.1 L2071.0 1666.1 L2075.0 1668.0 L2079.0 1670.0 L2083.0 1671.8 L2087.0 1673.7 L2091.0 1675.5 L2095.0 1677.3 L2099.0 1679.0 L2103.0 1680.7 L2107.0 1682.3 L2111.0 1684.0 L2115.0 1685.6 L2119.0 1687.1 L2123.0 1688.7 L2127.0 1690.2 L2131.0 1691.6 L2135.0 1693.1 L2139.0 1694.5 L2143.0 1695.8 L2147.0 1697.2 L2151.0 1698.5 L2155.0 1699.8 L2159.0 1701.1 L2163.0 1702.3 L2167.0 1703.5 L2171.0 1704.7 L2175.0 1705.8 L2179.0 1707.0 L2183.0 1708.1 L2187.0 1709.2 L2191.0 1710.2 L2195.0 1711.3 L2199.0 1712.3 L2203.0 1713.3 L2207.0 1714.2 L2211.0 1715.2 L2215.0 1716.1 L2219.0 1717.0 L2223.0 1717.9 L2227.0 1718.8 L2231.0 1719.6 L2235.0 1720.4 L2239.0 1721.3 L2243.0 1722.0 L2247.0 1722.8 L2251.0 1723.6 L2255.0 1724.3 L2259.0 1725.0 L2263.0 1725.7 L2267.0 1726.4 L2271.0 1727.1 L2275.0 1727.8 L2279.0 1728.4 L2283.0 1729.0 L2287.0 1729.6 L2291.0 1730.2 L2295.0 1730.8 L2299.0 1731.4 L2303.0 1732.0 L2307.0 1732.5 L2311.0 1733.0 L2315.0 1733.6 L2319.0 1734.1 L2323.0 1734.6 L2327.0 1735.0 L2331.0 1735.5 L2335.0 1736.0 L2339.0 1736.4" fill="none" stroke="#22e81e" stroke-width="8.8" stroke-linejoin="round"/>
<path d="M207.0 1731.0 L211.0 1730.5 L215.0 1729.9 L219.0 1729.2 L223.0 1728.6 L227.0 1728.0 L231.0 1727.3 L235.0 1726.6 L239.0 1726.0 L243.0 1725.2 L247.0 1724.5 L251.0 1723.8 L255.0 1723.0 L259.0 1722.3 L263.0 1721.5 L267.0 1720.7 L271.0 1719.9 L275.0 1719.0 L279.0 1718.2 L283.0 1717.3 L287.0 1716.4 L291.0 1715.5 L295.0 1714.5 L299.0 1713.6 L303.0 1712.6 L307.0 1711.6 L311.0 1710.6 L315.0 1709.5 L319.0 1708.4 L323.0 1707.3 L327.0 1706.2 L331.0 1705.1 L335.0 1703.9 L339.0 1702.7 L343.0 1701.5 L347.0 1700.3 L351.0 1699.0 L355.0 1697.7 L359.0 1696.3 L363.0 1695.0 L367.0 1693.6 L371.0 1692.2 L375.0 1690.7 L379.0 1689.3 L383.0 1687.7 L387.0 1686.2 L391.0 1684.6 L395.0 1683.0 L399.0 1681.4 L403.0 1679.7 L407.0 1678.0 L411.0 1676.2 L415.0 1674.4 L419.0 1672.6 L423.0 1670.8 L427.0 1668.9 L431.0 1666.9 L435.0 1664.9 L439.0 1662.9 L443.0 1660.8 L447.0 1658.7 L451.0 1656.6 L455.0 1654.4 L459.0 1652.2 L463.0 1649.9 L467.0 1647.6 L471.0 1645.2 L475.0 1642.8 L479.0 1640.3 L483.0 1637.8 L487.0 1635.2 L491.0 1632.6 L495.0 1629.9 L499.0 1627.2 L503.0 1624.4 L507.0 1621.6 L511.0 1618.7 L515.0 1615.8 L519.0 1612.8 L523.0 1609.7 L527.0 1606.6 L531.0 1603.4 L535.0 1600.2 L539.0 1596.9 L543.0 1593.6 L547.0 1590.2 L551.0 1586.7 L555.0 1583.2 L559.0 1579.6 L563.0 1575.9 L567.0 1572.2 L571.0 1568.4 L575.0 1564.5 L579.0 1560.6 L583.0 1556.6 L587.0 1552.5 L591.0 1548.4 L595.0 1544.1 L599.0 1539.9 L603.0 1535.5 L607.0 1531.1 L611.0 1526.6 L615.0 1522.0 L619.0 1517.3 L623.0 1512.6 L627.0 1507.8 L631.0 1502.9 L635.0 1497.9 L639.0 1492.9 L643.0 1487.8 L647.0 1482.6 L651.0 1477.3 L655.0 1471.9 L659.0 1466.5 L663.0 1461.0 L667.0 1455.3 L671.0 1449.7 L675.0 1443.9 L679.0 1438.0 L683.0 1432.1 L687.0 1426.0 L691.0 1419.9 L695.0 1413.7 L699.0 1407.4 L703.0 1401.0 L707.0 1394.6 L711.0 1388.0 L715.0 1381.4 L719.0 1374.7 L723.0 1367.9 L727.0 1361.0 L731.0 1354.0 L735.0 1346.9 L739.0 1339.8 L743.0 1332.5 L747.0 1325.2 L751.0 1317.8 L755.0 1310.3 L759.0 1302.7 L763.0 1295.0 L767.0 1287.2 L771.0 1279.4 L775.0 1271.5 L779.0 1263.4 L783.0 1255.3 L787.0 1247.2 L791.0 1238.9 L795.0 1230.5 L799.0 1222.1 L803.0 1213.6 L807.0 1205.0 L811.0 1196.4 L815.0 1187.6 L819.0 1178.8 L823.0 1169.9 L827.0 1160.9 L831.0 1151.9 L835.0 1142.8 L839.0 1133.6 L843.0 1124.3 L847.0 1115.0 L851.0 1105.6 L855.0 1096.2 L859.0 1086.7 L863.0 1077.1 L867.0 1067.5 L871.0 1057.8 L875.0 1048.0 L879.0 1038.2 L883.0 1028.4 L887.0 1018.5 L891.0 1008.5 L895.0 998.5 L899.0 988.5 L903.0 978.4 L907.0 968.3 L911.0 958.1 L915.0 947.9 L919.0 937.7 L923.0 927.5 L927.0 917.2 L931.0 906.9 L935.0 896.6 L939.0 886.3 L943.0 875.9 L947.0 865.6 L951.0 855.2 L955.0 844.9 L959.0 834.5 L963.0 824.1 L967.0 813.8 L971.0 803.4 L975.0 793.1 L979.0 782.7 L983.0 772.4 L987.0 762.1 L991.0 751.9 L995.0 741.6 L999.0 731.4 L1003.0 721.3 L1007.0 711.1 L1011.0 701.0 L1015.0 691.0 L1019.0 681.0 L1023.0 671.1 L1027.0 661.2 L1031.0 651.4 L1035.0 641.7 L1039.0 632.0 L1043.0 622.4 L1047.0 612.9 L1051.0 603.4 L1055.0 594.1 L1059.0 584.8 L1063.0 575.6 L1067.0 566.5 L1071.0 557.6 L1075.0 548.7 L1079.0 539.9 L1083.0 531.3 L1087.0 522.7 L1091.0 514.3 L1095.0 506.0 L1099.0 497.9 L1103.0 489.8 L1107.0 481.9 L1111.0 474.2 L1115.0 466.6 L1119.0 459.1 L1123.0 451.8 L1127.0 444.6 L1131.0 437.6 L1135.0 430.7 L1139.0 424.1 L1143.0 417.5 L1147.0 411.2 L1151.0 405.0 L1155.0 399.0 L1159.0 393.2 L1163.0 387.5 L1167.0 382.1 L1171.0 376.8 L1175.0 371.7 L1179.0 366.8 L1183.0 362.1 L1187.0 357.6 L1191.0 353.3 L1195.0 349.2 L1199.0 345.4 L1203.0 341.7 L1207.0 338.2 L1211.0 334.9 L1215.0 331.9 L1219.0 329.0 L1223.0 326.4 L1227.0 324.0 L1231.0 321.8 L1235.0 319.8 L1239.0 318.1 L1243.0 316.5 L1247.0 315.2 L1251.0 314.1 L1255.0 313.3 L1259.0 312.6 L1263.0 312.2 L1267.0 312.0 L1271.0 312.0 L1275.0 312.3 L1279.0 312.8 L1283.0 313.5 L1287.0 314.4 L1291.0 315.5 L1295.0 316.9 L1299.0 318.5 L1303.0 320.3 L1307.0 322.3 L1311.0 324.6 L1315.0 327.0 L1319.0 329.7 L1323.0 332.6 L1327.0 335.7 L1331.0 339.0 L1335.0 342.6 L1339.0 346.3 L1343.0 350.2 L1347.0 354.4 L1351.0 358.7 L1355.0 363.3 L1359.0 368.0 L1363.0 373.0 L1367.0 378.1 L1371.0 383.4 L1375.0 388.9 L1379.0 394.6 L1383.0 400.5 L1387.0 406.5 L1391.0 412.8 L1395.0 419.1 L1399.0 425.7 L1403.0 432.4 L1407.0 439.3 L1411.0 446.4 L1415.0 453.6 L1419.0 460.9 L1423.0 468.5 L1427.0 476.1 L1431.0 483.9 L1435.0 491.8 L1439.0 499.9 L1443.0 508.1 L1447.0 516.4 L1451.0 524.9 L1455.0 533.4 L1459.0 542.1 L1463.0 550.9 L1467.0 559.8 L1471.0 568.8 L1475.0 577.9 L1479.0 587.1 L1483.0 596.4 L1487.0 605.8 L1491.0 615.2 L1495.0 624.8 L1499.0 634.4 L1503.0 644.1 L1507.0 653.9 L1511.0 663.7 L1515.0 673.6 L1519.0 683.5 L1523.0 693.5 L1527.0 703.6 L1531.0 713.7 L1535.0 723.8 L1539.0 734.0 L1543.0 744.2 L1547.0 754.4 L1551.0 764.7 L1555.0 775.0 L1559.0 785.3 L1563.0 795.6 L1567.0 806.0 L1571.0 816.3 L1575.0 826.7 L1579.0 837.1 L1583.0 847.4 L1587.0 857.8 L1591.0 868.2 L1595.0 878.5 L1599.0 888.9 L1603.0 899.2 L1607.0 909.5 L1611.0 919.8 L1615.0 930.1 L1619.0 940.3 L1623.0 950.5 L1627.0 960.7 L1631.0 970.8 L1635.0 980.9 L1639.0 991.0 L1643.0 1001.0 L1647.0 1011.0 L1651.0 1020.9 L1655.0 1030.8 L1659.0 1040.7 L1663.0 1050.5 L1667.0 1060.2 L1671.0 1069.9 L1675.0 1079.5 L1679.0 1089.1 L1683.0 1098.5 L1687.0 1108.0 L1691.0 1117.4 L1695.0 1126.7 L1699.0 1135.9 L1703.0 1145.1 L1707.0 1154.2 L1711.0 1163.2 L1715.0 1172.1 L1719.0 1181.0 L1723.0 1189.8 L1727.0 1198.5 L1731.0 1207.2 L1735.0 1215.7 L1739.0 1224.2 L1743.0 1232.6 L1747.0 1241.0 L1751.0 1249.2 L1755.0 1257.4 L1759.0 1265.5 L1763.0 1273.5 L1767.0 1281.4 L1771.0 1289.2 L1775.0 1296.9 L1779.0 1304.6 L1783.0 1312.2 L1787.0 1319.6 L1791.0 1327.0 L1795.0 1334.3 L1799.0 1341.6 L1803.0 1348.7 L1807.0 1355.7 L1811.0 1362.7 L1815.0 1369.6 L1819.0 1376.4 L1823.0 1383.1 L1827.0 1389.7 L1831.0 1396.2 L1835.0 1402.7 L1839.0 1409.0 L1843.0 1415.3 L1847.0 1421.5 L1851.0 1427.5 L1855.0 1433.6 L1859.0 1439.5 L1863.0 1445.3 L1867.0 1451.1 L1871.0 1456.8 L1875.0 1462.3 L1879.0 1467.9 L1883.0 1473.3 L1887.0 1478.6 L1891.0 1483.9 L1895.0 1489.1 L1899.0 1494.2 L1903.0 1499.2 L1907.0 1504.1 L1911.0 1509.0 L1915.0 1513.8 L1919.0 1518.5 L1923.0 1523.1 L1927.0 1527.7 L1931.0 1532.2 L1935.0 1536.6 L1939.0 1540.9 L1943.0 1545.2 L1947.0 1549.4 L1951.0 1553.5 L1955.0 1557.6 L1959.0 1561.6 L1963.0 1565.5 L1967.0 1569.3 L1971.0 1573.1 L1975.0 1576.8 L1979.0 1580.5 L1983.0 1584.1 L1987.0 1587.6 L1991.0 1591.0 L1995.0 1594.4 L1999.0 1597.8 L2003.0 1601.0 L2007.0 1604.2 L2011.0 1607.4 L2015.0 1610.5 L2019.0 1613.5 L2023.0 1616.5 L2027.0 1619.4 L2031.0 1622.3 L2035.0 1625.1 L2039.0 1627.9 L2043.0 1630.6 L2047.0 1633.2 L2051.0 1635.8 L2055.0 1638.4 L2059.0 1640.9 L2063.0 1643.4 L2067.0 1645.8 L2071.0 1648.1 L2075.0 1650.5 L2079.0 1652.7 L2083.0 1655.0 L2087.0 1657.1 L2091.0 1659.3 L2095.0 1661.4 L2099.0 1663.4 L2103.0 1665.4 L2107.0 1667.4 L2111.0 1669.3 L2115.0 1671.2 L2119.0 1673.1 L2123.0 1674.9 L2127.0 1676.7 L2131.0 1678.4 L2135.0 1680.1 L2139.0 1681.8 L2143.0 1683.4 L2147.0 1685.0 L2151.0 1686.6 L2155.0 1688.1 L2159.0 1689.6 L2163.0 1691.1 L2167.0 1692.5 L2171.0 1693.9 L2175.0 1695.3 L2179.0 1696.7 L2183.0 1698.0 L2187.0 1699.3 L2191.0 1700.6 L2195.0 1701.8 L2199.0 1703.0 L2203.0 1704.2 L2207.0 1705.4 L2211.0 1706.5 L2215.0 1707.6 L2219.0 1708.7 L2223.0 1709.8 L2227.0 1710.8 L2231.0 1711.8 L2235.0 1712.8 L2239.0 1713.8 L2243.0 1714.8 L2247.0 1715.7 L2251.0 1716.6 L2255.0 1717.5 L2259.0 1718.4 L2263.0 1719.2 L2267.0 1720.1 L2271.0 1720.9 L2275.0 1721.7 L2279.0 1722.5 L2283.0 1723.2 L2287.0 1724.0 L2291.0 1724.7 L2295.0 1725.4 L2299.0 1726.1 L2303.0 1726.8 L2307.0 1727.5 L2311.0 1728.1 L2315.0 1728.8 L2319.0 1729.4 L2323.0 1730.0 L2327.0 1730.6 L2331.0 1731.2 L2335.0 1731.8 L2339.0 1732.3" fill="none" stroke="#dc1018" stroke-width="8.8" stroke-linejoin="round"/>
<path d="M207.0 1720.9 L211.0 1720.1 L215.0 1719.4 L219.0 1718.6 L223.0 1717.8 L227.0 1716.9 L231.0 1716.1 L235.0 1715.3 L239.0 1714.4 L243.0 1713.5 L247.0 1712.6 L251.0 1711.6 L255.0 1710.7 L259.0 1709.7 L263.0 1708.7 L267.0 1707.7 L271.0 1706.6 L275.0 1705.5 L279.0 1704.4 L283.0 1703.3 L287.0 1702.2 L291.0 1701.0 L295.0 1699.8 L299.0 1698.6 L303.0 1697.3 L307.0 1696.1 L311.0 1694.8 L315.0 1693.4 L319.0 1692.1 L323.0 1690.7 L327.0 1689.2 L331.0 1687.8 L335.0 1686.3 L339.0 1684.8 L343.0 1683.2 L347.0 1681.6 L351.0 1680.0 L355.0 1678.3 L359.0 1676.6 L363.0 1674.9 L367.0 1673.1 L371.0 1671.3 L375.0 1669.5 L379.0 1667.6 L383.0 1665.7 L387.0 1663.7 L391.0 1661.7 L395.0 1659.6 L399.0 1657.5 L403.0 1655.4 L407.0 1653.2 L411.0 1651.0 L415.0 1648.7 L419.0 1646.3 L423.0 1644.0 L427.0 1641.5 L431.0 1639.1 L435.0 1636.5 L439.0 1634.0 L443.0 1631.3 L447.0 1628.6 L451.0 1625.9 L455.0 1623.1 L459.0 1620.2 L463.0 1617.3 L467.0 1614.4 L471.0 1611.3 L475.0 1608.3 L479.0 1605.1 L483.0 1601.9 L487.0 1598.6 L491.0 1595.3 L495.0 1591.9 L499.0 1588.4 L503.0 1584.9 L507.0 1581.3 L511.0 1577.6 L515.0 1573.9 L519.0 1570.1 L523.0 1566.2 L527.0 1562.3 L531.0 1558.2 L535.0 1554.1 L539.0 1550.0 L543.0 1545.7 L547.0 1541.4 L551.0 1537.0 L555.0 1532.5 L559.0 1528.0 L563.0 1523.4 L567.0 1518.6 L571.0 1513.9 L575.0 1509.0 L579.0 1504.0 L583.0 1499.0 L587.0 1493.9 L591.0 1488.7 L595.0 1483.4 L599.0 1478.0 L603.0 1472.5 L607.0 1467.0 L611.0 1461.4 L615.0 1455.6 L619.0 1449.8 L623.0 1443.9 L627.0 1437.9 L631.0 1431.9 L635.0 1425.7 L639.0 1419.4 L643.0 1413.1 L647.0 1406.6 L651.0 1400.1 L655.0 1393.5 L659.0 1386.8 L663.0 1379.9 L667.0 1373.0 L671.0 1366.1 L675.0 1359.0 L679.0 1351.8 L683.0 1344.5 L687.0 1337.2 L691.0 1329.7 L695.0 1322.1 L699.0 1314.5 L703.0 1306.8 L707.0 1299.0 L711.0 1291.0 L715.0 1283.0 L719.0 1274.9 L723.0 1266.8 L727.0 1258.5 L731.0 1250.1 L735.0 1241.7 L739.0 1233.2 L743.0 1224.5 L747.0 1215.8 L751.0 1207.0 L755.0 1198.2 L759.0 1189.2 L763.0 1180.2 L767.0 1171.0 L771.0 1161.8 L775.0 1152.6 L779.0 1143.2 L783.0 1133.8 L787.0 1124.3 L791.0 1114.7 L795.0 1105.0 L799.0 1095.3 L803.0 1085.5 L807.0 1075.7 L811.0 1065.8 L815.0 1055.8 L819.0 1045.7 L823.0 1035.6 L827.0 1025.5 L831.0 1015.3 L835.0 1005.0 L839.0 994.7 L843.0 984.3 L847.0 973.9 L851.0 963.4 L855.0 952.9 L859.0 942.4 L863.0 931.8 L867.0 921.2 L871.0 910.5 L875.0 899.8 L879.0 889.1 L883.0 878.4 L887.0 867.6 L891.0 856.8 L895.0 846.0 L899.0 835.2 L903.0 824.4 L907.0 813.6 L911.0 802.7 L915.0 791.9 L919.0 781.1 L923.0 770.2 L927.0 759.4 L931.0 748.6 L935.0 737.8 L939.0 727.0 L943.0 716.2 L947.0 705.4 L951.0 694.7 L955.0 684.0 L959.0 673.3 L963.0 662.7 L967.0 652.1 L971.0 641.5 L975.0 631.0 L979.0 620.5 L983.0 610.1 L987.0 599.7 L991.0 589.4 L995.0 579.2 L999.0 569.0 L1003.0 558.9 L1007.0 548.8 L1011.0 538.8 L1015.0 528.9 L1019.0 519.1 L1023.0 509.4 L1027.0 499.7 L1031.0 490.1 L1035.0 480.7 L1039.0 471.3 L1043.0 462.0 L1047.0 452.8 L1051.0 443.7 L1055.0 434.8 L1059.0 425.9 L1063.0 417.2 L1067.0 408.5 L1071.0 400.0 L1075.0 391.6 L1079.0 383.4 L1083.0 375.2 L1087.0 367.2 L1091.0 359.4 L1095.0 351.6 L1099.0 344.0 L1103.0 336.5 L1107.0 329.2 L1111.0 322.1 L1115.0 315.0 L1119.0 308.2 L1123.0 301.4 L1127.0 294.9 L1131.0 288.5 L1135.0 282.2 L1139.0 276.1 L1143.0 270.2 L1147.0 264.4 L1151.0 258.9 L1155.0 253.4 L1159.0 248.2 L1163.0 243.1 L1167.0 238.2 L1171.0 233.5 L1175.0 228.9 L1179.0 224.5 L1183.0 220.4 L1187.0 216.3 L1191.0 212.5 L1195.0 208.9 L1199.0 205.4 L1203.0 202.2 L1207.0 199.1 L1211.0 196.2 L1215.0 193.5 L1219.0 191.0 L1223.0 188.7 L1227.0 186.5 L1231.0 184.6 L1235.0 182.9 L1239.0 181.3 L1243.0 180.0 L1247.0 178.8 L1251.0 177.9 L1255.0 177.1 L1259.0 176.6 L1263.0 176.2 L1267.0 176.0 L1271.0 176.0 L1275.0 176.3 L1279.0 176.7 L1283.0 177.3 L1287.0 178.1 L1291.0 179.1 L1295.0 180.3 L1299.0 181.7 L1303.0 183.3 L1307.0 185.1 L1311.0 187.1 L1315.0 189.2 L1319.0 191.6 L1323.0 194.2 L1327.0 196.9 L1331.0 199.8 L1335.0 203.0 L1339.0 206.3 L1343.0 209.8 L1347.0 213.5 L1351.0 217.3 L1355.0 221.4 L1359.0 225.6 L1363.0 230.0 L1367.0 234.6 L1371.0 239.4 L1375.0 244.4 L1379.0 249.5 L1383.0 254.8 L1387.0 260.2 L1391.0 265.9 L1395.0 271.7 L1399.0 277.6 L1403.0 283.8 L1407.0 290.1 L1411.0 296.5 L1415.0 303.1 L1419.0 309.9 L1423.0 316.8 L1427.0 323.8 L1431.0 331.0 L1435.0 338.4 L1439.0 345.9 L1443.0 353.5 L1447.0 361.3 L1451.0 369.2 L1455.0 377.3 L1459.0 385.4 L1463.0 393.7 L1467.0 402.1 L1471.0 410.7 L1475.0 419.3 L1479.0 428.1 L1483.0 437.0 L1487.0 446.0 L1491.0 455.1 L1495.0 464.3 L1499.0 473.6 L1503.0 483.0 L1507.0 492.5 L1511.0 502.1 L1515.0 511.8 L1519.0 521.6 L1523.0 531.4 L1527.0 541.3 L1531.0 551.3 L1535.0 561.4 L1539.0 571.5 L1543.0 581.7 L1547.0 592.0 L1551.0 602.3 L1555.0 612.7 L1559.0 623.1 L1563.0 633.6 L1567.0 644.1 L1571.0 654.7 L1575.0 665.3 L1579.0 676.0 L1583.0 686.7 L1587.0 697.4 L1591.0 708.1 L1595.0 718.9 L1599.0 729.7 L1603.0 740.5 L1607.0 751.3 L1611.0 762.1 L1615.0 772.9 L1619.0 783.8 L1623.0 794.6 L1627.0 805.4 L1631.0 816.3 L1635.0 827.1 L1639.0 837.9 L1643.0 848.7 L1647.0 859.5 L1651.0 870.3 L1655.0 881.1 L1659.0 891.8 L1663.0 902.5 L1667.0 913.2 L1671.0 923.8 L1675.0 934.4 L1679.0 945.0 L1683.0 955.5 L1687.0 966.0 L1691.0 976.5 L1695.0 986.9 L1699.0 997.3 L1703.0 1007.6 L1707.0 1017.8 L1711.0 1028.0 L1715.0 1038.2 L1719.0 1048.3 L1723.0 1058.3 L1727.0 1068.3 L1731.0 1078.2 L1735.0 1088.0 L1739.0 1097.8 L1743.0 1107.5 L1747.0 1117.1 L1751.0 1126.7 L1755.0 1136.1 L1759.0 1145.6 L1763.0 1154.9 L1767.0 1164.1 L1771.0 1173.3 L1775.0 1182.4 L1779.0 1191.4 L1783.0 1200.4 L1787.0 1209.2 L1791.0 1218.0 L1795.0 1226.7 L1799.0 1235.3 L1803.0 1243.8 L1807.0 1252.2 L1811.0 1260.6 L1815.0 1268.8 L1819.0 1277.0 L1823.0 1285.1 L1827.0 1293.0 L1831.0 1300.9 L1835.0 1308.7 L1839.0 1316.4 L1843.0 1324.0 L1847.0 1331.6 L1851.0 1339.0 L1855.0 1346.3 L1859.0 1353.6 L1863.0 1360.7 L1867.0 1367.8 L1871.0 1374.8 L1875.0 1381.7 L1879.0 1388.4 L1883.0 1395.1 L1887.0 1401.7 L1891.0 1408.3 L1895.0 1414.7 L1899.0 1421.0 L1903.0 1427.2 L1907.0 1433.4 L1911.0 1439.4 L1915.0 1445.4 L1919.0 1451.3 L1923.0 1457.1 L1927.0 1462.8 L1931.0 1468.4 L1935.0 1473.9 L1939.0 1479.4 L1943.0 1484.7 L1947.0 1490.0 L1951.0 1495.2 L1955.0 1500.3 L1959.0 1505.3 L1963.0 1510.2 L1967.0 1515.1 L1971.0 1519.8 L1975.0 1524.5 L1979.0 1529.1 L1983.0 1533.7 L1987.0 1538.1 L1991.0 1542.5 L1995.0 1546.8 L1999.0 1551.0 L2003.0 1555.2 L2007.0 1559.2 L2011.0 1563.2 L2015.0 1567.2 L2019.0 1571.0 L2023.0 1574.8 L2027.0 1578.5 L2031.0 1582.2 L2035.0 1585.8 L2039.0 1589.3 L2043.0 1592.7 L2047.0 1596.1 L2051.0 1599.4 L2055.0 1602.7 L2059.0 1605.9 L2063.0 1609.0 L2067.0 1612.1 L2071.0 1615.1 L2075.0 1618.1 L2079.0 1621.0 L2083.0 1623.8 L2087.0 1626.6 L2091.0 1629.3 L2095.0 1632.0 L2099.0 1634.6 L2103.0 1637.2 L2107.0 1639.7 L2111.0 1642.2 L2115.0 1644.6 L2119.0 1646.9 L2123.0 1649.3 L2127.0 1651.5 L2131.0 1653.7 L2135.0 1655.9 L2139.0 1658.1 L2143.0 1660.1 L2147.0 1662.2 L2151.0 1664.2 L2155.0 1666.1 L2159.0 1668.1 L2163.0 1669.9 L2167.0 1671.8 L2171.0 1673.6 L2175.0 1675.3 L2179.0 1677.1 L2183.0 1678.8 L2187.0 1680.4 L2191.0 1682.0 L2195.0 1683.6 L2199.0 1685.2 L2203.0 1686.7 L2207.0 1688.1 L2211.0 1689.6 L2215.0 1691.0 L2219.0 1692.4 L2223.0 1693.8 L2227.0 1695.1 L2231.0 1696.4 L2235.0 1697.7 L2239.0 1698.9 L2243.0 1700.1 L2247.0 1701.3 L2251.0 1702.5 L2255.0 1703.6 L2259.0 1704.7 L2263.0 1705.8 L2267.0 1706.9 L2271.0 1707.9 L2275.0 1708.9 L2279.0 1709.9 L2283.0 1710.9 L2287.0 1711.9 L2291.0 1712.8 L2295.0 1713.7 L2299.0 1714.6 L2303.0 1715.5 L2307.0 1716.3 L2311.0 1717.2 L2315.0 1718.0 L2319.0 1718.8 L2323.0 1719.5 L2327.0 1720.3 L2331.0 1721.1 L2335.0 1721.8 L2339.0 1722.5" fill="none" stroke="#000000" stroke-width="9.3" stroke-linejoin="round"/>
</g>
<text x="485.0" y="1877.5" font-size="65" text-anchor="middle">400</text>
<text x="948.5" y="1877.5" font-size="65" text-anchor="middle">450</text>
<text x="1412.0" y="1877.5" font-size="65" text-anchor="middle">500</text>
<text x="1875.5" y="1877.5" font-size="65" text-anchor="middle">550</text>
<text x="2339.0" y="1877.5" font-size="65" text-anchor="middle">600</text>
<text x="1229.5" y="2002" font-size="88" text-anchor="middle">Wavelength / nm</text>
<text transform="translate(134.5 961.5) rotate(-90)" font-size="87" text-anchor="middle">Fluorescence Intensity / a.u</text>
<text x="1249" y="165.5" font-size="80">485 nm</text>
<line x1="1060.3" y1="82.7" x2="1060.3" y2="318" stroke="#222" stroke-width="3.4"/>
<path d="M1049.2 312.7 L1071.6 312.7 L1060.4 354 Z" fill="#000"/>
<text class="b" x="245.5" y="883.8" font-size="42.3">UiO-66-N-Py</text>
<text class="b" x="530" y="883.8" font-size="42.3">UiO-66-N-Py+Fe<tspan font-size="29" font-weight="normal" dx="5.5" dy="-12.8">3+</tspan></text>
<line x1="1704" y1="153.3" x2="1850.5" y2="153.3" stroke="#ee8426" stroke-width="8.6" stroke-linecap="round"/>
<text class="b" x="1867" y="175.6" font-size="50">Fe</text>
<text x="1925" y="147.5" font-size="32">3+</text>
<text class="b" x="1973" y="175.6" font-size="50">1.0x10</text>
<text x="2126.3" y="147.5" font-size="32">-3</text>
<text class="b" x="2163.0" y="175.6" font-size="50">molL</text>
<text x="2285.0" y="147.5" font-size="32">-1</text>
<line x1="1704" y1="234.7" x2="1850.5" y2="234.7" stroke="#167a16" stroke-width="8.6" stroke-linecap="round"/>
<text class="b" x="1867" y="257.0" font-size="50">Fe</text>
<text x="1925" y="228.9" font-size="32">3+</text>
<text class="b" x="1973" y="257.0" font-size="50">5.0x10</text>
<text x="2126.3" y="228.9" font-size="32">-4</text>
<text class="b" x="2154.3" y="257.0" font-size="50">molL</text>
<text x="2276.3" y="228.9" font-size="32">-1</text>
<line x1="1704" y1="316.1" x2="1850.5" y2="316.1" stroke="#720a16" stroke-width="8.6" stroke-linecap="round"/>
<text class="b" x="1867" y="338.4" font-size="50">Fe</text>
<text x="1925" y="310.3" font-size="32">3+</text>
<text class="b" x="1973" y="338.4" font-size="50">1.0x10</text>
<text x="2126.3" y="310.3" font-size="32">-4</text>
<text class="b" x="2163.0" y="338.4" font-size="50">molL</text>
<text x="2285.0" y="310.3" font-size="32">-1</text>
<line x1="1704" y1="397.5" x2="1850.5" y2="397.5" stroke="#7a0c78" stroke-width="8.6" stroke-linecap="round"/>
<text class="b" x="1867" y="419.8" font-size="50">Fe</text>
<text x="1925" y="391.7" font-size="32">3+</text>
<text class="b" x="1973" y="419.8" font-size="50">5.0x10</text>
<text x="2126.3" y="391.7" font-size="32">-5</text>
<text class="b" x="2163.0" y="419.8" font-size="50">molL</text>
<text x="2285.0" y="391.7" font-size="32">-1</text>
<line x1="1704" y1="478.9" x2="1850.5" y2="478.9" stroke="#04006c" stroke-width="8.6" stroke-linecap="round"/>
<text class="b" x="1867" y="501.2" font-size="50">Fe</text>
<text x="1925" y="473.1" font-size="32">3+</text>
<text class="b" x="1973" y="501.2" font-size="50">2.5x10</text>
<text x="2126.3" y="473.1" font-size="32">-5</text>
<text class="b" x="2163.0" y="501.2" font-size="50">molL</text>
<text x="2285.0" y="473.1" font-size="32">-1</text>
<line x1="1704" y1="560.3" x2="1850.5" y2="560.3" stroke="#82821a" stroke-width="8.6" stroke-linecap="round"/>
<text class="b" x="1867" y="582.6" font-size="50">Fe</text>
<text x="1925" y="554.5" font-size="32">3+</text>
<text class="b" x="1973" y="582.6" font-size="50">1.0x10</text>
<text x="2126.3" y="554.5" font-size="32">-5</text>
<text class="b" x="2163.0" y="582.6" font-size="50">molL</text>
<text x="2285.0" y="554.5" font-size="32">-1</text>
<line x1="1704" y1="641.7" x2="1850.5" y2="641.7" stroke="#ee18e6" stroke-width="8.6" stroke-linecap="round"/>
<text class="b" x="1867" y="664.0" font-size="50">Fe</text>
<text x="1925" y="635.9" font-size="32">3+</text>
<text class="b" x="1973" y="664.0" font-size="50">7.5x10</text>
<text x="2126.3" y="635.9" font-size="32">-6</text>
<text class="b" x="2163.0" y="664.0" font-size="50">molL</text>
<text x="2285.0" y="635.9" font-size="32">-1</text>
<line x1="1704" y1="723.1" x2="1850.5" y2="723.1" stroke="#1208d8" stroke-width="8.6" stroke-linecap="round"/>
<text class="b" x="1867" y="745.4" font-size="50">Fe</text>
<text x="1925" y="717.3" font-size="32">3+</text>
<text class="b" x="1973" y="745.4" font-size="50">5.0x10</text>
<text x="2126.3" y="717.3" font-size="32">-6</text>
<text class="b" x="2163.0" y="745.4" font-size="50">molL</text>
<text x="2285.0" y="717.3" font-size="32">-1</text>
<line x1="1704" y1="804.5" x2="1850.5" y2="804.5" stroke="#22e81e" stroke-width="8.6" stroke-linecap="round"/>
<text class="b" x="1867" y="826.8" font-size="50">Fe</text>
<text x="1925" y="798.7" font-size="32">3+</text>
<text class="b" x="1973" y="826.8" font-size="50">2.5x10</text>
<text x="2126.3" y="798.7" font-size="32">-6</text>
<text class="b" x="2163.0" y="826.8" font-size="50">molL</text>
<text x="2285.0" y="798.7" font-size="32">-1</text>
<line x1="1704" y1="885.9" x2="1850.5" y2="885.9" stroke="#dc1018" stroke-width="8.6" stroke-linecap="round"/>
<text class="b" x="1867" y="908.2" font-size="50">Fe</text>
<text x="1925" y="880.1" font-size="32">3+</text>
<text class="b" x="1973" y="908.2" font-size="50">1.0x10</text>
<text x="2126.3" y="880.1" font-size="32">-6</text>
<text class="b" x="2154.3" y="908.2" font-size="50">molL</text>
<text x="2276.3" y="880.1" font-size="32">-1</text>
<line x1="1704" y1="967.3" x2="1850.5" y2="967.3" stroke="#000000" stroke-width="8.6" stroke-linecap="round"/>
<text class="b" x="1867" y="989.6" font-size="50">UiO-66-N-Py</text>
</svg></body></html>
